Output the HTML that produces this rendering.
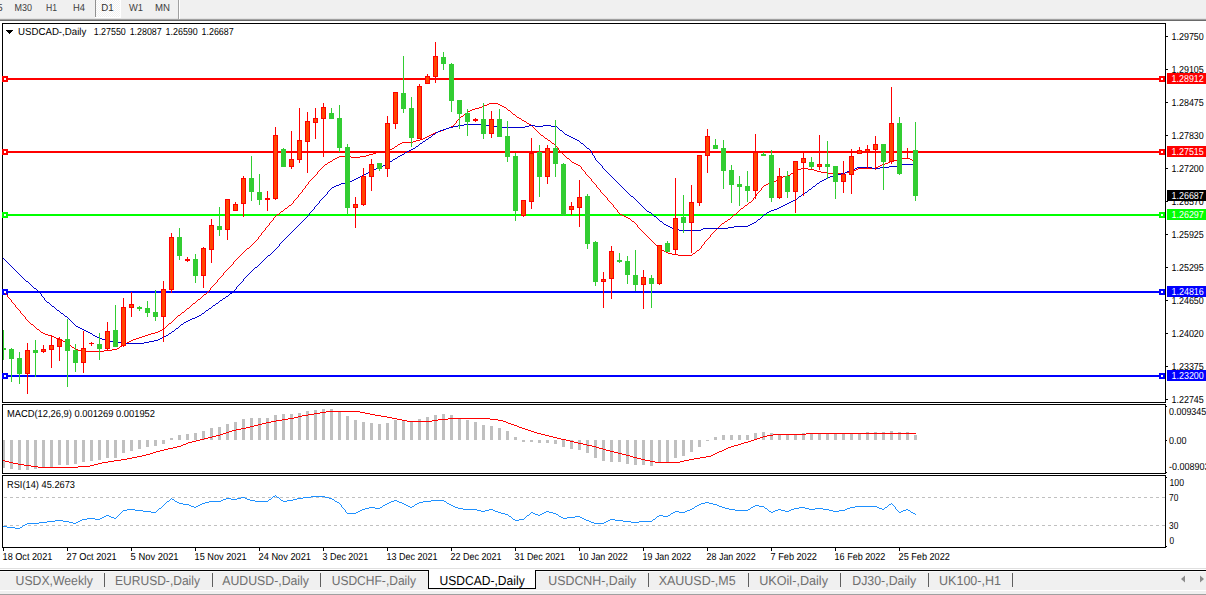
<!DOCTYPE html><html><head><meta charset="utf-8"><title>USDCAD-,Daily</title>
<style>html,body{margin:0;padding:0;background:#fff;overflow:hidden}body{width:1206px;height:595px;position:relative;font-family:"Liberation Sans",sans-serif}svg{position:absolute;left:0;top:0;display:block}text{font-family:"Liberation Sans",sans-serif}</style></head><body>
<svg width="1206" height="595" viewBox="0 0 1206 595" text-rendering="geometricPrecision">
<g shape-rendering="crispEdges">
<rect x="0" y="0" width="1206" height="18" fill="#f0f0f0" />
<rect x="0" y="18" width="1206" height="1" fill="#e3e3e3" />
<rect x="0" y="19" width="1206" height="1" fill="#a0a0a0" />
<rect x="0" y="20" width="1206" height="1" fill="#696969" />
<rect x="0" y="21" width="1206" height="2" fill="#ffffff" />
<rect x="178" y="0" width="1" height="19" fill="#a0a0a0" />
<rect x="179" y="0" width="1" height="19" fill="#ffffff" />
<defs><pattern id="ck" x="96" y="0" width="2" height="2" patternUnits="userSpaceOnUse"><rect width="2" height="2" fill="#ffffff"/><rect x="0" y="0" width="1" height="1" fill="#f0f0f0"/><rect x="1" y="1" width="1" height="1" fill="#f0f0f0"/></pattern></defs>
<rect x="95" y="0" width="1" height="17" fill="#909090" />
<rect x="96" y="0" width="24" height="17" fill="url(#ck)" />
<rect x="120" y="0" width="1" height="18" fill="#ffffff" />
<rect x="95" y="17" width="26" height="1" fill="#ffffff" />
</g>
<g shape-rendering="crispEdges" fill="#000">
<rect x="2" y="23" width="1164" height="1" fill="#000" />
<rect x="2" y="23" width="1" height="380" fill="#000" />
<rect x="2" y="402" width="1164" height="1" fill="#000" />
<rect x="1165" y="23" width="1" height="380" fill="#000" />
<rect x="2" y="404" width="1164" height="1" fill="#000" />
<rect x="2" y="404" width="1" height="70" fill="#000" />
<rect x="2" y="473" width="1164" height="1" fill="#000" />
<rect x="1165" y="404" width="1" height="70" fill="#000" />
<rect x="2" y="475" width="1164" height="1" fill="#000" />
<rect x="2" y="475" width="1" height="73" fill="#000" />
<rect x="2" y="547" width="1164" height="1" fill="#000" />
<rect x="1165" y="475" width="1" height="73" fill="#000" />
</g>
<g shape-rendering="crispEdges">
<rect x="3" y="78" width="1162" height="2" fill="#ff0000" />
<rect x="2" y="76" width="6" height="6" fill="#ff0000" />
<rect x="4" y="78" width="2" height="2" fill="#fff" />
<rect x="1159" y="76" width="6" height="6" fill="#ff0000" />
<rect x="1161" y="78" width="2" height="2" fill="#fff" />
<rect x="1167" y="73" width="39" height="11" fill="#ff0000" />
<rect x="3" y="151" width="1162" height="2" fill="#ff0000" />
<rect x="2" y="149" width="6" height="6" fill="#ff0000" />
<rect x="4" y="151" width="2" height="2" fill="#fff" />
<rect x="1159" y="149" width="6" height="6" fill="#ff0000" />
<rect x="1161" y="151" width="2" height="2" fill="#fff" />
<rect x="1167" y="146" width="39" height="11" fill="#ff0000" />
<rect x="3" y="214" width="1162" height="2" fill="#00ff00" />
<rect x="2" y="212" width="6" height="6" fill="#00ff00" />
<rect x="4" y="214" width="2" height="2" fill="#fff" />
<rect x="1159" y="212" width="6" height="6" fill="#00ff00" />
<rect x="1161" y="214" width="2" height="2" fill="#fff" />
<rect x="1167" y="209" width="39" height="11" fill="#00ff00" />
<rect x="3" y="291" width="1162" height="2" fill="#0000ff" />
<rect x="2" y="289" width="6" height="6" fill="#0000ff" />
<rect x="4" y="291" width="2" height="2" fill="#fff" />
<rect x="1159" y="289" width="6" height="6" fill="#0000ff" />
<rect x="1161" y="291" width="2" height="2" fill="#fff" />
<rect x="1167" y="286" width="39" height="11" fill="#0000ff" />
<rect x="3" y="375" width="1162" height="2" fill="#0000ff" />
<rect x="2" y="373" width="6" height="6" fill="#0000ff" />
<rect x="4" y="375" width="2" height="2" fill="#fff" />
<rect x="1159" y="373" width="6" height="6" fill="#0000ff" />
<rect x="1161" y="375" width="2" height="2" fill="#fff" />
<rect x="1167" y="370" width="39" height="11" fill="#0000ff" />
<rect x="1167" y="190" width="39" height="11" fill="#000" />
</g>
<path d="M489 103h9M487 104h2M498 104h2M484 105h3M500 105h2M482 106h2M502 106h2M479 107h3M504 107h2M475 108h4M506 108h1M472 109h3M507 109h1M470 110h2M508 110h2M468 111h2M510 111h1M467 112h1M511 112h1M465 113h2M512 113h1M464 114h1M513 114h2M463 115h1M515 115h1M461 116h2M516 116h1M460 117h1M517 117h2M459 118h1M519 118h2M458 119h1M521 119h1M457 120h1M522 120h2M456 121h1M524 121h2M456 122h1M526 122h1M455 123h1M527 123h2M454 124h1M529 124h2M453 125h1M531 125h1M451 126h2M532 126h1M449 127h2M533 127h1M446 128h3M534 128h1M444 129h2M535 129h1M441 130h3M536 130h1M438 131h3M537 131h1M435 132h3M538 132h1M433 133h2M539 133h1M431 134h2M540 134h1M429 135h2M541 135h2M427 136h2M543 136h1M425 137h2M544 137h1M423 138h2M545 138h2M420 139h3M547 139h1M416 140h4M548 140h2M413 141h3M550 141h1M402 142h11M551 142h1M400 143h2M552 143h2M398 144h2M554 144h1M397 145h1M555 145h1M395 146h2M556 146h1M394 147h1M557 147h1M392 148h2M558 148h1M390 149h2M558 149h1M386 150h4M559 150h1M380 151h6M560 151h1M376 152h4M561 152h1M373 153h3M562 153h1M369 154h4M563 154h1M366 155h3M564 155h1M339 156h12M360 156h6M565 156h1M337 157h2M351 157h9M566 157h1M335 158h2M567 158h2M901 158h9M333 159h2M569 159h1M897 159h4M910 159h2M332 160h1M570 160h1M893 160h4M912 160h2M330 161h2M571 161h1M890 161h3M328 162h2M572 162h2M888 162h2M327 163h1M574 163h2M885 163h3M325 164h2M576 164h2M882 164h3M324 165h1M578 165h2M880 165h2M323 166h1M580 166h1M878 166h2M322 167h1M581 167h1M876 167h2M321 168h1M581 168h1M801 168h7M858 168h18M320 169h1M582 169h1M797 169h4M808 169h6M856 169h2M319 170h1M583 170h1M795 170h2M814 170h3M853 170h3M318 171h1M584 171h1M794 171h1M817 171h4M849 171h4M317 172h1M585 172h1M793 172h1M821 172h6M845 172h4M317 173h1M585 173h1M791 173h2M827 173h18M316 174h1M586 174h1M790 174h1M315 175h1M587 175h1M787 175h3M314 176h1M588 176h1M783 176h4M313 177h1M589 177h1M780 177h3M312 178h1M590 178h1M779 178h1M311 179h1M591 179h1M777 179h2M310 180h1M591 180h1M776 180h1M309 181h1M592 181h1M774 181h2M308 182h1M593 182h1M771 182h3M308 183h1M594 183h1M768 183h3M307 184h1M595 184h1M766 184h2M306 185h1M596 185h1M764 185h2M305 186h1M596 186h1M763 186h1M305 187h1M597 187h1M762 187h1M304 188h1M598 188h1M761 188h1M303 189h1M599 189h1M761 189h1M302 190h1M600 190h1M760 190h1M302 191h1M600 191h1M759 191h1M301 192h1M601 192h1M758 192h1M300 193h1M602 193h1M757 193h1M299 194h1M603 194h1M756 194h1M298 195h1M604 195h1M756 195h1M298 196h1M605 196h1M755 196h1M297 197h1M606 197h1M754 197h1M296 198h1M607 198h1M753 198h1M295 199h1M607 199h1M753 199h1M294 200h1M608 200h1M752 200h1M293 201h1M609 201h1M751 201h1M293 202h1M610 202h1M749 202h2M292 203h1M611 203h1M748 203h1M291 204h1M612 204h1M747 204h1M289 205h2M613 205h1M745 205h2M288 206h1M613 206h1M744 206h1M287 207h1M614 207h1M743 207h1M285 208h2M615 208h1M741 208h2M284 209h1M616 209h1M740 209h1M283 210h1M617 210h1M739 210h1M281 211h2M617 211h1M738 211h1M280 212h1M618 212h1M737 212h1M279 213h1M619 213h1M736 213h1M277 214h2M620 214h2M734 214h2M276 215h1M622 215h2M733 215h1M275 216h1M624 216h2M732 216h1M274 217h1M626 217h2M731 217h1M273 218h1M628 218h2M730 218h1M273 219h1M630 219h1M728 219h2M272 220h1M631 220h1M727 220h1M271 221h1M632 221h2M725 221h2M270 222h1M634 222h1M724 222h1M269 223h1M635 223h1M722 223h2M269 224h1M636 224h1M721 224h1M268 225h1M637 225h1M720 225h1M267 226h1M637 226h1M719 226h1M266 227h1M638 227h1M718 227h1M265 228h1M639 228h1M717 228h1M265 229h1M640 229h1M716 229h1M264 230h1M641 230h1M715 230h1M263 231h1M642 231h1M714 231h1M262 232h1M643 232h1M713 232h1M261 233h1M644 233h1M712 233h1M261 234h1M645 234h1M711 234h1M260 235h1M646 235h1M710 235h1M259 236h1M647 236h1M710 236h1M258 237h1M648 237h1M709 237h1M258 238h1M649 238h1M708 238h1M257 239h1M650 239h1M707 239h1M256 240h1M651 240h1M706 240h1M255 241h1M652 241h1M705 241h1M254 242h1M653 242h1M704 242h1M253 243h1M654 243h1M704 243h1M252 244h1M655 244h1M703 244h1M251 245h1M656 245h1M702 245h1M250 246h1M657 246h2M701 246h1M249 247h1M659 247h1M701 247h1M247 248h2M660 248h1M700 248h1M246 249h1M661 249h1M699 249h1M245 250h1M662 250h2M697 250h2M244 251h1M664 251h2M696 251h1M243 252h1M666 252h2M695 252h1M242 253h1M668 253h4M693 253h2M241 254h1M672 254h6M692 254h1M240 255h1M678 255h14M239 256h1M238 257h1M237 258h1M236 259h1M235 260h1M234 261h1M233 262h1M233 263h1M232 264h1M231 265h1M230 266h1M229 267h1M228 268h1M227 269h1M226 270h1M225 271h1M224 272h1M223 273h1M223 274h1M222 275h1M221 276h1M220 277h1M219 278h1M218 279h1M217 280h1M217 281h1M216 282h1M215 283h1M214 284h1M213 285h1M212 286h1M211 287h1M210 288h1M210 289h1M209 290h1M208 291h1M207 292h1M5 293h1M206 293h1M6 294h1M204 294h2M7 295h1M203 295h1M7 296h1M202 296h1M8 297h1M201 297h1M9 298h1M200 298h1M10 299h1M198 299h2M11 300h1M197 300h1M11 301h1M196 301h1M12 302h1M195 302h1M13 303h1M193 303h2M14 304h1M192 304h1M15 305h1M191 305h1M15 306h1M190 306h1M16 307h1M189 307h1M17 308h1M187 308h2M18 309h1M186 309h1M19 310h1M185 310h1M20 311h1M184 311h1M20 312h1M182 312h2M21 313h1M181 313h1M22 314h1M180 314h1M23 315h1M178 315h2M24 316h1M177 316h1M25 317h1M176 317h1M25 318h1M175 318h1M26 319h1M174 319h1M27 320h1M173 320h1M28 321h1M172 321h1M29 322h1M171 322h1M30 323h1M169 323h2M31 324h2M168 324h1M33 325h1M167 325h1M34 326h1M166 326h1M35 327h1M165 327h1M36 328h1M164 328h1M37 329h2M162 329h2M39 330h1M160 330h2M40 331h1M158 331h2M41 332h2M155 332h3M43 333h2M151 333h4M45 334h3M148 334h3M48 335h3M145 335h3M51 336h3M142 336h3M54 337h2M139 337h3M56 338h3M136 338h3M59 339h2M133 339h3M61 340h2M131 340h2M63 341h2M129 341h2M65 342h1M127 342h2M66 343h2M125 343h2M68 344h2M124 344h1M70 345h1M122 345h2M71 346h1M120 346h2M72 347h2M119 347h1M74 348h1M117 348h2M75 349h3M112 349h5M78 350h4M104 350h8M82 351h22" transform="translate(0,0.5)" fill="none" stroke="#ff0000" stroke-width="1" shape-rendering="crispEdges"/>
<path d="M464 124h20M458 125h6M484 125h9M529 125h6M543 125h8M453 126h5M493 126h6M525 126h4M535 126h8M551 126h6M449 127h4M499 127h26M557 127h1M446 128h3M558 128h1M443 129h3M559 129h1M440 130h3M560 130h2M438 131h2M562 131h1M436 132h2M563 132h1M435 133h1M564 133h1M433 134h2M565 134h2M432 135h1M567 135h2M431 136h1M569 136h2M429 137h2M571 137h2M428 138h1M573 138h2M426 139h2M575 139h2M425 140h1M577 140h2M423 141h2M579 141h1M422 142h1M580 142h1M420 143h2M581 143h2M419 144h1M583 144h1M418 145h1M584 145h1M416 146h2M585 146h1M415 147h1M586 147h1M413 148h2M587 148h2M411 149h2M589 149h1M409 150h2M590 150h1M407 151h2M591 151h1M405 152h2M591 152h1M404 153h1M592 153h1M402 154h2M592 154h1M400 155h2M593 155h1M398 156h2M594 156h1M397 157h1M594 157h1M395 158h2M595 158h1M393 159h2M595 159h1M392 160h1M596 160h1M390 161h2M597 161h1M388 162h2M598 162h1M387 163h1M599 163h1M385 164h2M600 164h1M901 164h13M383 165h2M601 165h1M897 165h4M381 166h2M602 166h1M889 166h8M379 167h2M602 167h1M857 167h15M880 167h9M376 168h3M603 168h1M855 168h2M872 168h8M374 169h2M604 169h1M852 169h3M372 170h2M605 170h1M850 170h2M370 171h2M606 171h1M847 171h3M368 172h2M607 172h1M845 172h2M366 173h2M608 173h1M841 173h4M364 174h2M609 174h1M837 174h4M362 175h2M610 175h1M833 175h4M360 176h2M611 176h1M830 176h3M358 177h2M612 177h1M828 177h2M356 178h2M613 178h1M826 178h2M354 179h2M614 179h1M824 179h2M352 180h2M615 180h1M822 180h2M349 181h3M616 181h1M820 181h2M345 182h4M617 182h1M819 182h1M341 183h4M618 183h1M817 183h2M339 184h2M619 184h1M816 184h1M336 185h3M620 185h1M815 185h1M334 186h2M621 186h1M813 186h2M332 187h2M622 187h1M812 187h1M331 188h1M623 188h1M811 188h1M330 189h1M624 189h1M809 189h2M329 190h1M625 190h1M808 190h1M328 191h1M626 191h1M807 191h1M327 192h1M627 192h1M805 192h2M327 193h1M628 193h1M804 193h1M326 194h1M629 194h1M802 194h2M325 195h1M630 195h1M801 195h1M324 196h1M631 196h2M799 196h2M323 197h1M633 197h1M798 197h1M322 198h1M634 198h1M797 198h1M321 199h1M635 199h1M795 199h2M320 200h1M636 200h1M793 200h2M319 201h1M637 201h1M791 201h2M319 202h1M638 202h1M789 202h2M318 203h1M639 203h1M787 203h2M317 204h1M640 204h1M785 204h2M316 205h1M641 205h1M783 205h2M315 206h1M642 206h1M781 206h2M314 207h1M643 207h1M779 207h2M314 208h1M644 208h1M777 208h2M313 209h1M645 209h1M774 209h3M312 210h1M646 210h1M771 210h3M311 211h1M647 211h2M769 211h2M310 212h1M649 212h2M767 212h2M309 213h1M651 213h1M766 213h1M309 214h1M652 214h1M764 214h2M308 215h1M653 215h1M763 215h1M307 216h1M654 216h2M762 216h1M306 217h1M656 217h1M761 217h1M305 218h1M657 218h1M760 218h1M304 219h1M658 219h1M758 219h2M303 220h1M659 220h1M757 220h1M302 221h1M660 221h2M756 221h1M301 222h1M662 222h1M754 222h2M300 223h1M663 223h1M752 223h2M299 224h1M664 224h2M750 224h2M298 225h1M666 225h2M748 225h2M297 226h1M668 226h2M734 226h14M296 227h1M670 227h2M728 227h6M295 228h1M672 228h3M703 228h25M294 229h1M675 229h4M701 229h2M293 230h1M679 230h22M292 231h1M291 232h1M290 233h1M289 234h1M288 235h1M287 236h1M286 237h1M285 238h1M284 239h1M283 240h1M282 241h1M281 242h1M280 243h1M279 244h1M279 245h1M278 246h1M277 247h1M276 248h1M275 249h1M274 250h1M273 251h1M272 252h1M271 253h1M270 254h1M268 255h2M267 256h1M266 257h1M3 258h1M265 258h1M4 259h1M264 259h1M5 260h1M263 260h1M6 261h1M262 261h1M7 262h1M261 262h1M8 263h1M260 263h1M9 264h1M259 264h1M10 265h1M258 265h1M11 266h1M257 266h1M12 267h1M255 267h2M13 268h1M254 268h1M14 269h1M253 269h1M15 270h1M252 270h1M16 271h1M251 271h1M17 272h1M250 272h1M18 273h1M249 273h1M19 274h1M248 274h1M20 275h1M247 275h1M21 276h1M246 276h1M22 277h1M245 277h1M23 278h1M244 278h1M24 279h1M243 279h1M25 280h1M243 280h1M26 281h2M242 281h1M28 282h1M241 282h1M29 283h1M240 283h1M30 284h1M239 284h1M31 285h1M238 285h1M32 286h1M237 286h1M33 287h1M236 287h1M34 288h2M236 288h1M36 289h1M235 289h1M37 290h1M234 290h1M38 291h1M233 291h1M39 292h1M232 292h1M40 293h1M230 293h2M41 294h1M229 294h1M41 295h1M228 295h1M42 296h1M226 296h2M43 297h1M225 297h1M44 298h1M223 298h2M44 299h1M222 299h1M45 300h1M220 300h2M46 301h1M219 301h1M47 302h2M218 302h1M49 303h1M216 303h2M50 304h1M215 304h1M51 305h1M213 305h2M52 306h2M212 306h1M54 307h1M211 307h1M55 308h1M209 308h2M56 309h1M208 309h1M57 310h2M206 310h2M59 311h1M205 311h1M60 312h1M204 312h1M61 313h2M202 313h2M63 314h1M201 314h1M64 315h1M199 315h2M65 316h2M197 316h2M67 317h1M195 317h2M68 318h1M192 318h3M69 319h1M190 319h2M70 320h1M188 320h2M71 321h1M186 321h2M72 322h1M184 322h2M73 323h1M183 323h1M74 324h1M181 324h2M75 325h1M180 325h1M76 326h2M179 326h1M78 327h2M178 327h1M80 328h2M176 328h2M82 329h2M175 329h1M84 330h2M174 330h1M86 331h2M172 331h2M88 332h2M171 332h1M90 333h2M169 333h2M92 334h1M168 334h1M93 335h2M166 335h2M95 336h2M164 336h2M97 337h2M162 337h2M99 338h3M160 338h2M102 339h4M158 339h2M106 340h4M154 340h4M110 341h5M149 341h5M115 342h7M144 342h5M122 343h22" transform="translate(0,0.5)" fill="none" stroke="#0000cd" stroke-width="1" shape-rendering="crispEdges"/>
<g shape-rendering="crispEdges">
<rect x="3" y="330" width="1" height="30" fill="#32cd32" />
<rect x="3" y="348" width="3" height="2" fill="#32cd32" />
<rect x="11" y="348" width="1" height="34" fill="#32cd32" />
<rect x="9" y="349" width="5" height="10" fill="#32cd32" />
<rect x="19" y="352" width="1" height="32" fill="#32cd32" />
<rect x="17" y="358" width="5" height="16" fill="#32cd32" />
<rect x="27" y="343" width="1" height="51" fill="#ff0000" />
<rect x="25" y="350" width="5" height="24" fill="#ff0000" />
<rect x="26" y="351" width="3" height="22" fill="#ff4500" />
<rect x="35" y="340" width="1" height="37" fill="#32cd32" />
<rect x="33" y="350" width="5" height="3" fill="#32cd32" />
<rect x="43" y="345" width="1" height="8" fill="#ff0000" />
<rect x="41" y="349" width="5" height="3" fill="#ff0000" />
<rect x="42" y="350" width="3" height="1" fill="#ff4500" />
<rect x="51" y="335" width="1" height="33" fill="#ff0000" />
<rect x="49" y="345" width="5" height="5" fill="#ff0000" />
<rect x="50" y="346" width="3" height="3" fill="#ff4500" />
<rect x="59" y="337" width="1" height="24" fill="#ff0000" />
<rect x="57" y="339" width="5" height="8" fill="#ff0000" />
<rect x="58" y="340" width="3" height="6" fill="#ff4500" />
<rect x="67" y="319" width="1" height="68" fill="#32cd32" />
<rect x="65" y="339" width="5" height="12" fill="#32cd32" />
<rect x="75" y="344" width="1" height="28" fill="#32cd32" />
<rect x="73" y="350" width="5" height="13" fill="#32cd32" />
<rect x="83" y="331" width="1" height="42" fill="#ff0000" />
<rect x="81" y="348" width="5" height="15" fill="#ff0000" />
<rect x="82" y="349" width="3" height="13" fill="#ff4500" />
<rect x="91" y="342" width="1" height="4" fill="#ff0000" />
<rect x="89" y="343" width="5" height="1" fill="#ff0000" />
<rect x="99" y="333" width="1" height="27" fill="#32cd32" />
<rect x="97" y="344" width="5" height="5" fill="#32cd32" />
<rect x="107" y="322" width="1" height="28" fill="#ff0000" />
<rect x="105" y="331" width="5" height="18" fill="#ff0000" />
<rect x="106" y="332" width="3" height="16" fill="#ff4500" />
<rect x="115" y="305" width="1" height="42" fill="#32cd32" />
<rect x="113" y="330" width="5" height="17" fill="#32cd32" />
<rect x="123" y="298" width="1" height="49" fill="#ff0000" />
<rect x="121" y="307" width="5" height="39" fill="#ff0000" />
<rect x="122" y="308" width="3" height="37" fill="#ff4500" />
<rect x="131" y="292" width="1" height="25" fill="#ff0000" />
<rect x="129" y="304" width="5" height="4" fill="#ff0000" />
<rect x="130" y="305" width="3" height="2" fill="#ff4500" />
<rect x="139" y="306" width="1" height="5" fill="#32cd32" />
<rect x="137" y="307" width="5" height="2" fill="#32cd32" />
<rect x="147" y="301" width="1" height="16" fill="#32cd32" />
<rect x="145" y="308" width="5" height="5" fill="#32cd32" />
<rect x="155" y="290" width="1" height="31" fill="#32cd32" />
<rect x="153" y="312" width="5" height="5" fill="#32cd32" />
<rect x="163" y="281" width="1" height="61" fill="#ff0000" />
<rect x="161" y="289" width="5" height="28" fill="#ff0000" />
<rect x="162" y="290" width="3" height="26" fill="#ff4500" />
<rect x="171" y="233" width="1" height="60" fill="#ff0000" />
<rect x="169" y="237" width="5" height="53" fill="#ff0000" />
<rect x="170" y="238" width="3" height="51" fill="#ff4500" />
<rect x="179" y="228" width="1" height="32" fill="#32cd32" />
<rect x="177" y="237" width="5" height="19" fill="#32cd32" />
<rect x="187" y="257" width="1" height="5" fill="#ff0000" />
<rect x="185" y="259" width="5" height="2" fill="#ff0000" />
<rect x="195" y="254" width="1" height="29" fill="#32cd32" />
<rect x="193" y="259" width="5" height="17" fill="#32cd32" />
<rect x="203" y="247" width="1" height="41" fill="#ff0000" />
<rect x="201" y="248" width="5" height="28" fill="#ff0000" />
<rect x="202" y="249" width="3" height="26" fill="#ff4500" />
<rect x="211" y="219" width="1" height="44" fill="#ff0000" />
<rect x="209" y="225" width="5" height="25" fill="#ff0000" />
<rect x="210" y="226" width="3" height="23" fill="#ff4500" />
<rect x="219" y="207" width="1" height="29" fill="#32cd32" />
<rect x="217" y="226" width="5" height="4" fill="#32cd32" />
<rect x="227" y="199" width="1" height="41" fill="#ff0000" />
<rect x="225" y="199" width="5" height="31" fill="#ff0000" />
<rect x="226" y="200" width="3" height="29" fill="#ff4500" />
<rect x="235" y="202" width="1" height="9" fill="#ff0000" />
<rect x="233" y="204" width="5" height="7" fill="#ff0000" />
<rect x="234" y="205" width="3" height="5" fill="#ff4500" />
<rect x="243" y="176" width="1" height="41" fill="#ff0000" />
<rect x="241" y="178" width="5" height="26" fill="#ff0000" />
<rect x="242" y="179" width="3" height="24" fill="#ff4500" />
<rect x="251" y="156" width="1" height="45" fill="#32cd32" />
<rect x="249" y="178" width="5" height="14" fill="#32cd32" />
<rect x="259" y="174" width="1" height="31" fill="#32cd32" />
<rect x="257" y="192" width="5" height="8" fill="#32cd32" />
<rect x="267" y="191" width="1" height="20" fill="#ff0000" />
<rect x="265" y="198" width="5" height="2" fill="#ff0000" />
<rect x="275" y="127" width="1" height="73" fill="#ff0000" />
<rect x="273" y="135" width="5" height="64" fill="#ff0000" />
<rect x="274" y="136" width="3" height="62" fill="#ff4500" />
<rect x="283" y="148" width="1" height="19" fill="#32cd32" />
<rect x="281" y="149" width="5" height="18" fill="#32cd32" />
<rect x="291" y="131" width="1" height="38" fill="#ff0000" />
<rect x="289" y="159" width="5" height="8" fill="#ff0000" />
<rect x="290" y="160" width="3" height="6" fill="#ff4500" />
<rect x="299" y="108" width="1" height="55" fill="#ff0000" />
<rect x="297" y="140" width="5" height="20" fill="#ff0000" />
<rect x="298" y="141" width="3" height="18" fill="#ff4500" />
<rect x="307" y="112" width="1" height="61" fill="#ff0000" />
<rect x="305" y="121" width="5" height="21" fill="#ff0000" />
<rect x="306" y="122" width="3" height="19" fill="#ff4500" />
<rect x="315" y="108" width="1" height="31" fill="#ff0000" />
<rect x="313" y="118" width="5" height="5" fill="#ff0000" />
<rect x="314" y="119" width="3" height="3" fill="#ff4500" />
<rect x="323" y="103" width="1" height="54" fill="#ff0000" />
<rect x="321" y="107" width="5" height="12" fill="#ff0000" />
<rect x="322" y="108" width="3" height="10" fill="#ff4500" />
<rect x="331" y="108" width="1" height="11" fill="#32cd32" />
<rect x="329" y="113" width="5" height="6" fill="#32cd32" />
<rect x="339" y="105" width="1" height="47" fill="#32cd32" />
<rect x="337" y="118" width="5" height="30" fill="#32cd32" />
<rect x="347" y="144" width="1" height="71" fill="#32cd32" />
<rect x="345" y="147" width="5" height="61" fill="#32cd32" />
<rect x="355" y="197" width="1" height="31" fill="#ff0000" />
<rect x="353" y="204" width="5" height="4" fill="#ff0000" />
<rect x="354" y="205" width="3" height="2" fill="#ff4500" />
<rect x="363" y="168" width="1" height="38" fill="#ff0000" />
<rect x="361" y="176" width="5" height="29" fill="#ff0000" />
<rect x="362" y="177" width="3" height="27" fill="#ff4500" />
<rect x="371" y="159" width="1" height="32" fill="#ff0000" />
<rect x="369" y="164" width="5" height="13" fill="#ff0000" />
<rect x="370" y="165" width="3" height="11" fill="#ff4500" />
<rect x="379" y="163" width="1" height="8" fill="#32cd32" />
<rect x="377" y="163" width="5" height="6" fill="#32cd32" />
<rect x="387" y="116" width="1" height="61" fill="#ff0000" />
<rect x="385" y="123" width="5" height="46" fill="#ff0000" />
<rect x="386" y="124" width="3" height="44" fill="#ff4500" />
<rect x="395" y="92" width="1" height="37" fill="#ff0000" />
<rect x="393" y="92" width="5" height="32" fill="#ff0000" />
<rect x="394" y="93" width="3" height="30" fill="#ff4500" />
<rect x="403" y="56" width="1" height="57" fill="#32cd32" />
<rect x="401" y="93" width="5" height="16" fill="#32cd32" />
<rect x="411" y="97" width="1" height="50" fill="#32cd32" />
<rect x="409" y="108" width="5" height="30" fill="#32cd32" />
<rect x="419" y="84" width="1" height="55" fill="#ff0000" />
<rect x="417" y="86" width="5" height="53" fill="#ff0000" />
<rect x="418" y="87" width="3" height="51" fill="#ff4500" />
<rect x="427" y="74" width="1" height="10" fill="#ff0000" />
<rect x="425" y="76" width="5" height="8" fill="#ff0000" />
<rect x="426" y="77" width="3" height="6" fill="#ff4500" />
<rect x="435" y="42" width="1" height="41" fill="#ff0000" />
<rect x="433" y="56" width="5" height="21" fill="#ff0000" />
<rect x="434" y="57" width="3" height="19" fill="#ff4500" />
<rect x="443" y="52" width="1" height="18" fill="#32cd32" />
<rect x="441" y="57" width="5" height="7" fill="#32cd32" />
<rect x="451" y="63" width="1" height="49" fill="#32cd32" />
<rect x="449" y="64" width="5" height="37" fill="#32cd32" />
<rect x="459" y="100" width="1" height="29" fill="#32cd32" />
<rect x="457" y="100" width="5" height="14" fill="#32cd32" />
<rect x="467" y="109" width="1" height="27" fill="#32cd32" />
<rect x="465" y="113" width="5" height="9" fill="#32cd32" />
<rect x="475" y="118" width="1" height="4" fill="#ff0000" />
<rect x="473" y="119" width="5" height="2" fill="#ff0000" />
<rect x="483" y="103" width="1" height="36" fill="#32cd32" />
<rect x="481" y="119" width="5" height="15" fill="#32cd32" />
<rect x="491" y="111" width="1" height="27" fill="#ff0000" />
<rect x="489" y="119" width="5" height="15" fill="#ff0000" />
<rect x="490" y="120" width="3" height="13" fill="#ff4500" />
<rect x="499" y="109" width="1" height="28" fill="#32cd32" />
<rect x="497" y="119" width="5" height="18" fill="#32cd32" />
<rect x="507" y="121" width="1" height="41" fill="#32cd32" />
<rect x="505" y="136" width="5" height="21" fill="#32cd32" />
<rect x="515" y="153" width="1" height="68" fill="#32cd32" />
<rect x="513" y="156" width="5" height="55" fill="#32cd32" />
<rect x="523" y="200" width="1" height="17" fill="#ff0000" />
<rect x="521" y="200" width="5" height="16" fill="#ff0000" />
<rect x="522" y="201" width="3" height="14" fill="#ff4500" />
<rect x="531" y="138" width="1" height="71" fill="#ff0000" />
<rect x="529" y="153" width="5" height="49" fill="#ff0000" />
<rect x="530" y="154" width="3" height="47" fill="#ff4500" />
<rect x="539" y="145" width="1" height="52" fill="#32cd32" />
<rect x="537" y="152" width="5" height="25" fill="#32cd32" />
<rect x="547" y="145" width="1" height="39" fill="#ff0000" />
<rect x="545" y="148" width="5" height="29" fill="#ff0000" />
<rect x="546" y="149" width="3" height="27" fill="#ff4500" />
<rect x="555" y="120" width="1" height="57" fill="#32cd32" />
<rect x="553" y="148" width="5" height="16" fill="#32cd32" />
<rect x="563" y="163" width="1" height="53" fill="#32cd32" />
<rect x="561" y="164" width="5" height="51" fill="#32cd32" />
<rect x="571" y="202" width="1" height="13" fill="#ff0000" />
<rect x="569" y="206" width="5" height="4" fill="#ff0000" />
<rect x="570" y="207" width="3" height="2" fill="#ff4500" />
<rect x="579" y="180" width="1" height="47" fill="#ff0000" />
<rect x="577" y="197" width="5" height="11" fill="#ff0000" />
<rect x="578" y="198" width="3" height="9" fill="#ff4500" />
<rect x="587" y="194" width="1" height="55" fill="#32cd32" />
<rect x="585" y="196" width="5" height="48" fill="#32cd32" />
<rect x="595" y="241" width="1" height="45" fill="#32cd32" />
<rect x="593" y="242" width="5" height="40" fill="#32cd32" />
<rect x="603" y="272" width="1" height="36" fill="#ff0000" />
<rect x="601" y="279" width="5" height="3" fill="#ff0000" />
<rect x="602" y="280" width="3" height="1" fill="#ff4500" />
<rect x="611" y="246" width="1" height="53" fill="#ff0000" />
<rect x="609" y="251" width="5" height="28" fill="#ff0000" />
<rect x="610" y="252" width="3" height="26" fill="#ff4500" />
<rect x="619" y="253" width="1" height="10" fill="#32cd32" />
<rect x="617" y="260" width="5" height="2" fill="#32cd32" />
<rect x="627" y="256" width="1" height="28" fill="#32cd32" />
<rect x="625" y="261" width="5" height="14" fill="#32cd32" />
<rect x="635" y="250" width="1" height="41" fill="#32cd32" />
<rect x="633" y="275" width="5" height="10" fill="#32cd32" />
<rect x="643" y="270" width="1" height="39" fill="#ff0000" />
<rect x="641" y="277" width="5" height="8" fill="#ff0000" />
<rect x="642" y="278" width="3" height="6" fill="#ff4500" />
<rect x="651" y="275" width="1" height="33" fill="#32cd32" />
<rect x="649" y="278" width="5" height="6" fill="#32cd32" />
<rect x="659" y="245" width="1" height="40" fill="#ff0000" />
<rect x="657" y="245" width="5" height="39" fill="#ff0000" />
<rect x="658" y="246" width="3" height="37" fill="#ff4500" />
<rect x="667" y="241" width="1" height="11" fill="#32cd32" />
<rect x="665" y="243" width="5" height="9" fill="#32cd32" />
<rect x="675" y="178" width="1" height="76" fill="#ff0000" />
<rect x="673" y="218" width="5" height="32" fill="#ff0000" />
<rect x="674" y="219" width="3" height="30" fill="#ff4500" />
<rect x="683" y="195" width="1" height="38" fill="#32cd32" />
<rect x="681" y="217" width="5" height="6" fill="#32cd32" />
<rect x="691" y="185" width="1" height="68" fill="#ff0000" />
<rect x="689" y="202" width="5" height="21" fill="#ff0000" />
<rect x="690" y="203" width="3" height="19" fill="#ff4500" />
<rect x="699" y="155" width="1" height="51" fill="#ff0000" />
<rect x="697" y="155" width="5" height="48" fill="#ff0000" />
<rect x="698" y="156" width="3" height="46" fill="#ff4500" />
<rect x="707" y="129" width="1" height="44" fill="#ff0000" />
<rect x="705" y="136" width="5" height="20" fill="#ff0000" />
<rect x="706" y="137" width="3" height="18" fill="#ff4500" />
<rect x="715" y="139" width="1" height="10" fill="#32cd32" />
<rect x="713" y="145" width="5" height="4" fill="#32cd32" />
<rect x="723" y="140" width="1" height="49" fill="#32cd32" />
<rect x="721" y="148" width="5" height="23" fill="#32cd32" />
<rect x="731" y="165" width="1" height="38" fill="#32cd32" />
<rect x="729" y="170" width="5" height="15" fill="#32cd32" />
<rect x="739" y="176" width="1" height="30" fill="#32cd32" />
<rect x="737" y="184" width="5" height="3" fill="#32cd32" />
<rect x="747" y="171" width="1" height="31" fill="#32cd32" />
<rect x="745" y="186" width="5" height="5" fill="#32cd32" />
<rect x="755" y="134" width="1" height="65" fill="#ff0000" />
<rect x="753" y="152" width="5" height="39" fill="#ff0000" />
<rect x="754" y="153" width="3" height="37" fill="#ff4500" />
<rect x="763" y="152" width="1" height="4" fill="#32cd32" />
<rect x="761" y="154" width="5" height="2" fill="#32cd32" />
<rect x="771" y="150" width="1" height="52" fill="#32cd32" />
<rect x="769" y="155" width="5" height="43" fill="#32cd32" />
<rect x="779" y="168" width="1" height="31" fill="#ff0000" />
<rect x="777" y="176" width="5" height="22" fill="#ff0000" />
<rect x="778" y="177" width="3" height="20" fill="#ff4500" />
<rect x="787" y="171" width="1" height="27" fill="#32cd32" />
<rect x="785" y="176" width="5" height="16" fill="#32cd32" />
<rect x="795" y="161" width="1" height="52" fill="#ff0000" />
<rect x="793" y="161" width="5" height="31" fill="#ff0000" />
<rect x="794" y="162" width="3" height="29" fill="#ff4500" />
<rect x="803" y="153" width="1" height="43" fill="#ff0000" />
<rect x="801" y="158" width="5" height="5" fill="#ff0000" />
<rect x="802" y="159" width="3" height="3" fill="#ff4500" />
<rect x="811" y="157" width="1" height="12" fill="#32cd32" />
<rect x="809" y="162" width="5" height="5" fill="#32cd32" />
<rect x="819" y="135" width="1" height="35" fill="#ff0000" />
<rect x="817" y="164" width="5" height="3" fill="#ff0000" />
<rect x="818" y="165" width="3" height="1" fill="#ff4500" />
<rect x="827" y="141" width="1" height="38" fill="#32cd32" />
<rect x="825" y="164" width="5" height="3" fill="#32cd32" />
<rect x="835" y="166" width="1" height="33" fill="#32cd32" />
<rect x="833" y="166" width="5" height="16" fill="#32cd32" />
<rect x="843" y="161" width="1" height="32" fill="#ff0000" />
<rect x="841" y="174" width="5" height="8" fill="#ff0000" />
<rect x="842" y="175" width="3" height="6" fill="#ff4500" />
<rect x="851" y="149" width="1" height="45" fill="#ff0000" />
<rect x="849" y="156" width="5" height="19" fill="#ff0000" />
<rect x="850" y="157" width="3" height="17" fill="#ff4500" />
<rect x="859" y="147" width="1" height="7" fill="#ff0000" />
<rect x="857" y="150" width="5" height="4" fill="#ff0000" />
<rect x="858" y="151" width="3" height="2" fill="#ff4500" />
<rect x="867" y="145" width="1" height="24" fill="#ff0000" />
<rect x="865" y="149" width="5" height="3" fill="#ff0000" />
<rect x="866" y="150" width="3" height="1" fill="#ff4500" />
<rect x="875" y="136" width="1" height="34" fill="#ff0000" />
<rect x="873" y="144" width="5" height="6" fill="#ff0000" />
<rect x="874" y="145" width="3" height="4" fill="#ff4500" />
<rect x="883" y="144" width="1" height="46" fill="#32cd32" />
<rect x="881" y="144" width="5" height="18" fill="#32cd32" />
<rect x="891" y="87" width="1" height="77" fill="#ff0000" />
<rect x="889" y="123" width="5" height="39" fill="#ff0000" />
<rect x="890" y="124" width="3" height="37" fill="#ff4500" />
<rect x="899" y="117" width="1" height="58" fill="#32cd32" />
<rect x="897" y="123" width="5" height="51" fill="#32cd32" />
<rect x="907" y="148" width="1" height="10" fill="#ff0000" />
<rect x="915" y="122" width="1" height="79" fill="#32cd32" />
<rect x="913" y="150" width="5" height="46" fill="#32cd32" />
</g>
<g shape-rendering="crispEdges">
<rect x="3" y="440" width="2" height="28" fill="#c0c0c0" />
<rect x="10" y="440" width="3" height="29" fill="#c0c0c0" />
<rect x="18" y="440" width="3" height="30" fill="#c0c0c0" />
<rect x="26" y="440" width="3" height="30" fill="#c0c0c0" />
<rect x="34" y="440" width="3" height="29" fill="#c0c0c0" />
<rect x="42" y="440" width="3" height="27" fill="#c0c0c0" />
<rect x="50" y="440" width="3" height="27" fill="#c0c0c0" />
<rect x="58" y="440" width="3" height="25" fill="#c0c0c0" />
<rect x="66" y="440" width="3" height="25" fill="#c0c0c0" />
<rect x="74" y="440" width="3" height="24" fill="#c0c0c0" />
<rect x="82" y="440" width="3" height="22" fill="#c0c0c0" />
<rect x="90" y="440" width="3" height="21" fill="#c0c0c0" />
<rect x="98" y="440" width="3" height="20" fill="#c0c0c0" />
<rect x="106" y="440" width="3" height="18" fill="#c0c0c0" />
<rect x="114" y="440" width="3" height="18" fill="#c0c0c0" />
<rect x="122" y="440" width="3" height="13" fill="#c0c0c0" />
<rect x="130" y="440" width="3" height="11" fill="#c0c0c0" />
<rect x="138" y="440" width="3" height="9" fill="#c0c0c0" />
<rect x="146" y="440" width="3" height="7" fill="#c0c0c0" />
<rect x="154" y="440" width="3" height="6" fill="#c0c0c0" />
<rect x="162" y="440" width="3" height="4" fill="#c0c0c0" />
<rect x="170" y="438" width="3" height="2" fill="#c0c0c0" />
<rect x="178" y="435" width="3" height="5" fill="#c0c0c0" />
<rect x="186" y="434" width="3" height="6" fill="#c0c0c0" />
<rect x="194" y="433" width="3" height="7" fill="#c0c0c0" />
<rect x="202" y="431" width="3" height="9" fill="#c0c0c0" />
<rect x="210" y="428" width="3" height="12" fill="#c0c0c0" />
<rect x="218" y="427" width="3" height="13" fill="#c0c0c0" />
<rect x="226" y="424" width="3" height="16" fill="#c0c0c0" />
<rect x="234" y="422" width="3" height="18" fill="#c0c0c0" />
<rect x="242" y="419" width="3" height="21" fill="#c0c0c0" />
<rect x="250" y="418" width="3" height="22" fill="#c0c0c0" />
<rect x="258" y="418" width="3" height="22" fill="#c0c0c0" />
<rect x="266" y="418" width="3" height="22" fill="#c0c0c0" />
<rect x="274" y="415" width="3" height="25" fill="#c0c0c0" />
<rect x="282" y="414" width="3" height="26" fill="#c0c0c0" />
<rect x="290" y="414" width="3" height="26" fill="#c0c0c0" />
<rect x="298" y="413" width="3" height="27" fill="#c0c0c0" />
<rect x="306" y="411" width="3" height="29" fill="#c0c0c0" />
<rect x="314" y="410" width="3" height="30" fill="#c0c0c0" />
<rect x="322" y="409" width="3" height="31" fill="#c0c0c0" />
<rect x="330" y="409" width="3" height="31" fill="#c0c0c0" />
<rect x="338" y="411" width="3" height="29" fill="#c0c0c0" />
<rect x="346" y="416" width="3" height="24" fill="#c0c0c0" />
<rect x="354" y="420" width="3" height="20" fill="#c0c0c0" />
<rect x="362" y="422" width="3" height="18" fill="#c0c0c0" />
<rect x="370" y="423" width="3" height="17" fill="#c0c0c0" />
<rect x="378" y="424" width="3" height="16" fill="#c0c0c0" />
<rect x="386" y="423" width="3" height="17" fill="#c0c0c0" />
<rect x="394" y="420" width="3" height="20" fill="#c0c0c0" />
<rect x="402" y="421" width="3" height="19" fill="#c0c0c0" />
<rect x="410" y="422" width="3" height="18" fill="#c0c0c0" />
<rect x="418" y="419" width="3" height="21" fill="#c0c0c0" />
<rect x="426" y="417" width="3" height="23" fill="#c0c0c0" />
<rect x="434" y="415" width="3" height="25" fill="#c0c0c0" />
<rect x="442" y="414" width="3" height="26" fill="#c0c0c0" />
<rect x="450" y="415" width="3" height="25" fill="#c0c0c0" />
<rect x="458" y="418" width="3" height="22" fill="#c0c0c0" />
<rect x="466" y="420" width="3" height="20" fill="#c0c0c0" />
<rect x="474" y="422" width="3" height="18" fill="#c0c0c0" />
<rect x="482" y="425" width="3" height="15" fill="#c0c0c0" />
<rect x="490" y="426" width="3" height="14" fill="#c0c0c0" />
<rect x="498" y="428" width="3" height="12" fill="#c0c0c0" />
<rect x="506" y="431" width="3" height="9" fill="#c0c0c0" />
<rect x="514" y="437" width="3" height="3" fill="#c0c0c0" />
<rect x="522" y="440" width="3" height="2" fill="#c0c0c0" />
<rect x="530" y="440" width="3" height="2" fill="#c0c0c0" />
<rect x="538" y="440" width="3" height="3" fill="#c0c0c0" />
<rect x="546" y="440" width="3" height="3" fill="#c0c0c0" />
<rect x="554" y="440" width="3" height="4" fill="#c0c0c0" />
<rect x="562" y="440" width="3" height="7" fill="#c0c0c0" />
<rect x="570" y="440" width="3" height="9" fill="#c0c0c0" />
<rect x="578" y="440" width="3" height="10" fill="#c0c0c0" />
<rect x="586" y="440" width="3" height="13" fill="#c0c0c0" />
<rect x="594" y="440" width="3" height="18" fill="#c0c0c0" />
<rect x="602" y="440" width="3" height="21" fill="#c0c0c0" />
<rect x="610" y="440" width="3" height="22" fill="#c0c0c0" />
<rect x="618" y="440" width="3" height="22" fill="#c0c0c0" />
<rect x="626" y="440" width="3" height="24" fill="#c0c0c0" />
<rect x="634" y="440" width="3" height="25" fill="#c0c0c0" />
<rect x="642" y="440" width="3" height="25" fill="#c0c0c0" />
<rect x="650" y="440" width="3" height="26" fill="#c0c0c0" />
<rect x="658" y="440" width="3" height="23" fill="#c0c0c0" />
<rect x="666" y="440" width="3" height="23" fill="#c0c0c0" />
<rect x="674" y="440" width="3" height="18" fill="#c0c0c0" />
<rect x="682" y="440" width="3" height="16" fill="#c0c0c0" />
<rect x="690" y="440" width="3" height="12" fill="#c0c0c0" />
<rect x="698" y="440" width="3" height="7" fill="#c0c0c0" />
<rect x="706" y="440" width="3" height="1" fill="#c0c0c0" />
<rect x="714" y="437" width="3" height="3" fill="#c0c0c0" />
<rect x="722" y="435" width="3" height="5" fill="#c0c0c0" />
<rect x="730" y="435" width="3" height="5" fill="#c0c0c0" />
<rect x="738" y="435" width="3" height="5" fill="#c0c0c0" />
<rect x="746" y="435" width="3" height="5" fill="#c0c0c0" />
<rect x="754" y="433" width="3" height="7" fill="#c0c0c0" />
<rect x="762" y="432" width="3" height="8" fill="#c0c0c0" />
<rect x="770" y="433" width="3" height="7" fill="#c0c0c0" />
<rect x="778" y="434" width="3" height="6" fill="#c0c0c0" />
<rect x="786" y="434" width="3" height="6" fill="#c0c0c0" />
<rect x="794" y="434" width="3" height="6" fill="#c0c0c0" />
<rect x="802" y="433" width="3" height="7" fill="#c0c0c0" />
<rect x="810" y="433" width="3" height="7" fill="#c0c0c0" />
<rect x="818" y="433" width="3" height="7" fill="#c0c0c0" />
<rect x="826" y="433" width="3" height="7" fill="#c0c0c0" />
<rect x="834" y="433" width="3" height="7" fill="#c0c0c0" />
<rect x="842" y="433" width="3" height="7" fill="#c0c0c0" />
<rect x="850" y="433" width="3" height="7" fill="#c0c0c0" />
<rect x="858" y="433" width="3" height="7" fill="#c0c0c0" />
<rect x="866" y="432" width="3" height="8" fill="#c0c0c0" />
<rect x="874" y="432" width="3" height="8" fill="#c0c0c0" />
<rect x="882" y="432" width="3" height="8" fill="#c0c0c0" />
<rect x="890" y="431" width="3" height="9" fill="#c0c0c0" />
<rect x="898" y="432" width="3" height="8" fill="#c0c0c0" />
<rect x="906" y="432" width="3" height="8" fill="#c0c0c0" />
<rect x="914" y="435" width="3" height="5" fill="#c0c0c0" />
</g>
<path d="M326 411h34M320 412h6M360 412h5M314 413h6M365 413h5M308 414h6M370 414h5M302 415h6M375 415h6M298 416h4M381 416h6M294 417h4M387 417h5M288 418h6M392 418h5M448 418h42M282 419h6M397 419h5M438 419h10M490 419h8M276 420h6M402 420h5M432 420h6M498 420h5M271 421h5M407 421h25M503 421h3M266 422h5M506 422h2M262 423h4M508 423h3M258 424h4M511 424h3M254 425h4M514 425h3M250 426h4M517 426h2M246 427h4M519 427h3M241 428h5M522 428h3M236 429h5M525 429h3M232 430h4M528 430h3M229 431h3M531 431h3M226 432h3M534 432h3M223 433h3M537 433h4M806 433h110M220 434h3M541 434h4M773 434h33M216 435h4M545 435h4M767 435h6M212 436h4M549 436h4M763 436h4M208 437h4M553 437h4M760 437h3M204 438h4M557 438h4M757 438h3M200 439h4M561 439h5M754 439h3M196 440h4M566 440h4M751 440h3M192 441h4M570 441h4M748 441h3M188 442h4M574 442h4M744 442h4M186 443h2M578 443h5M741 443h3M183 444h3M583 444h4M738 444h3M181 445h2M587 445h5M734 445h4M177 446h4M592 446h4M731 446h3M173 447h4M596 447h3M728 447h3M168 448h5M599 448h4M726 448h2M164 449h4M603 449h3M724 449h2M160 450h4M606 450h4M722 450h2M156 451h4M610 451h4M719 451h3M153 452h3M614 452h4M717 452h2M150 453h3M618 453h4M715 453h2M146 454h4M622 454h4M713 454h2M142 455h4M626 455h4M711 455h2M137 456h5M630 456h3M706 456h5M132 457h5M633 457h4M700 457h6M127 458h5M637 458h4M694 458h6M121 459h6M641 459h4M689 459h5M3 460h2M114 460h7M645 460h5M684 460h5M5 461h4M108 461h6M650 461h5M680 461h4M9 462h4M102 462h6M655 462h25M13 463h5M98 463h4M18 464h6M94 464h4M24 465h7M90 465h4M31 466h7M78 466h12M38 467h40" transform="translate(0,0.5)" fill="none" stroke="#ff0000" stroke-width="1" shape-rendering="crispEdges"/>
<g shape-rendering="crispEdges">
<rect x="4" y="497" width="3" height="1" fill="#c0c0c0" />
<rect x="10" y="497" width="3" height="1" fill="#c0c0c0" />
<rect x="16" y="497" width="3" height="1" fill="#c0c0c0" />
<rect x="22" y="497" width="3" height="1" fill="#c0c0c0" />
<rect x="28" y="497" width="3" height="1" fill="#c0c0c0" />
<rect x="34" y="497" width="3" height="1" fill="#c0c0c0" />
<rect x="40" y="497" width="3" height="1" fill="#c0c0c0" />
<rect x="46" y="497" width="3" height="1" fill="#c0c0c0" />
<rect x="52" y="497" width="3" height="1" fill="#c0c0c0" />
<rect x="58" y="497" width="3" height="1" fill="#c0c0c0" />
<rect x="64" y="497" width="3" height="1" fill="#c0c0c0" />
<rect x="70" y="497" width="3" height="1" fill="#c0c0c0" />
<rect x="76" y="497" width="3" height="1" fill="#c0c0c0" />
<rect x="82" y="497" width="3" height="1" fill="#c0c0c0" />
<rect x="88" y="497" width="3" height="1" fill="#c0c0c0" />
<rect x="94" y="497" width="3" height="1" fill="#c0c0c0" />
<rect x="100" y="497" width="3" height="1" fill="#c0c0c0" />
<rect x="106" y="497" width="3" height="1" fill="#c0c0c0" />
<rect x="112" y="497" width="3" height="1" fill="#c0c0c0" />
<rect x="118" y="497" width="3" height="1" fill="#c0c0c0" />
<rect x="124" y="497" width="3" height="1" fill="#c0c0c0" />
<rect x="130" y="497" width="3" height="1" fill="#c0c0c0" />
<rect x="136" y="497" width="3" height="1" fill="#c0c0c0" />
<rect x="142" y="497" width="3" height="1" fill="#c0c0c0" />
<rect x="148" y="497" width="3" height="1" fill="#c0c0c0" />
<rect x="154" y="497" width="3" height="1" fill="#c0c0c0" />
<rect x="160" y="497" width="3" height="1" fill="#c0c0c0" />
<rect x="166" y="497" width="3" height="1" fill="#c0c0c0" />
<rect x="172" y="497" width="3" height="1" fill="#c0c0c0" />
<rect x="178" y="497" width="3" height="1" fill="#c0c0c0" />
<rect x="184" y="497" width="3" height="1" fill="#c0c0c0" />
<rect x="190" y="497" width="3" height="1" fill="#c0c0c0" />
<rect x="196" y="497" width="3" height="1" fill="#c0c0c0" />
<rect x="202" y="497" width="3" height="1" fill="#c0c0c0" />
<rect x="208" y="497" width="3" height="1" fill="#c0c0c0" />
<rect x="214" y="497" width="3" height="1" fill="#c0c0c0" />
<rect x="220" y="497" width="3" height="1" fill="#c0c0c0" />
<rect x="226" y="497" width="3" height="1" fill="#c0c0c0" />
<rect x="232" y="497" width="3" height="1" fill="#c0c0c0" />
<rect x="238" y="497" width="3" height="1" fill="#c0c0c0" />
<rect x="244" y="497" width="3" height="1" fill="#c0c0c0" />
<rect x="250" y="497" width="3" height="1" fill="#c0c0c0" />
<rect x="256" y="497" width="3" height="1" fill="#c0c0c0" />
<rect x="262" y="497" width="3" height="1" fill="#c0c0c0" />
<rect x="268" y="497" width="3" height="1" fill="#c0c0c0" />
<rect x="274" y="497" width="3" height="1" fill="#c0c0c0" />
<rect x="280" y="497" width="3" height="1" fill="#c0c0c0" />
<rect x="286" y="497" width="3" height="1" fill="#c0c0c0" />
<rect x="292" y="497" width="3" height="1" fill="#c0c0c0" />
<rect x="298" y="497" width="3" height="1" fill="#c0c0c0" />
<rect x="304" y="497" width="3" height="1" fill="#c0c0c0" />
<rect x="310" y="497" width="3" height="1" fill="#c0c0c0" />
<rect x="316" y="497" width="3" height="1" fill="#c0c0c0" />
<rect x="322" y="497" width="3" height="1" fill="#c0c0c0" />
<rect x="328" y="497" width="3" height="1" fill="#c0c0c0" />
<rect x="334" y="497" width="3" height="1" fill="#c0c0c0" />
<rect x="340" y="497" width="3" height="1" fill="#c0c0c0" />
<rect x="346" y="497" width="3" height="1" fill="#c0c0c0" />
<rect x="352" y="497" width="3" height="1" fill="#c0c0c0" />
<rect x="358" y="497" width="3" height="1" fill="#c0c0c0" />
<rect x="364" y="497" width="3" height="1" fill="#c0c0c0" />
<rect x="370" y="497" width="3" height="1" fill="#c0c0c0" />
<rect x="376" y="497" width="3" height="1" fill="#c0c0c0" />
<rect x="382" y="497" width="3" height="1" fill="#c0c0c0" />
<rect x="388" y="497" width="3" height="1" fill="#c0c0c0" />
<rect x="394" y="497" width="3" height="1" fill="#c0c0c0" />
<rect x="400" y="497" width="3" height="1" fill="#c0c0c0" />
<rect x="406" y="497" width="3" height="1" fill="#c0c0c0" />
<rect x="412" y="497" width="3" height="1" fill="#c0c0c0" />
<rect x="418" y="497" width="3" height="1" fill="#c0c0c0" />
<rect x="424" y="497" width="3" height="1" fill="#c0c0c0" />
<rect x="430" y="497" width="3" height="1" fill="#c0c0c0" />
<rect x="436" y="497" width="3" height="1" fill="#c0c0c0" />
<rect x="442" y="497" width="3" height="1" fill="#c0c0c0" />
<rect x="448" y="497" width="3" height="1" fill="#c0c0c0" />
<rect x="454" y="497" width="3" height="1" fill="#c0c0c0" />
<rect x="460" y="497" width="3" height="1" fill="#c0c0c0" />
<rect x="466" y="497" width="3" height="1" fill="#c0c0c0" />
<rect x="472" y="497" width="3" height="1" fill="#c0c0c0" />
<rect x="478" y="497" width="3" height="1" fill="#c0c0c0" />
<rect x="484" y="497" width="3" height="1" fill="#c0c0c0" />
<rect x="490" y="497" width="3" height="1" fill="#c0c0c0" />
<rect x="496" y="497" width="3" height="1" fill="#c0c0c0" />
<rect x="502" y="497" width="3" height="1" fill="#c0c0c0" />
<rect x="508" y="497" width="3" height="1" fill="#c0c0c0" />
<rect x="514" y="497" width="3" height="1" fill="#c0c0c0" />
<rect x="520" y="497" width="3" height="1" fill="#c0c0c0" />
<rect x="526" y="497" width="3" height="1" fill="#c0c0c0" />
<rect x="532" y="497" width="3" height="1" fill="#c0c0c0" />
<rect x="538" y="497" width="3" height="1" fill="#c0c0c0" />
<rect x="544" y="497" width="3" height="1" fill="#c0c0c0" />
<rect x="550" y="497" width="3" height="1" fill="#c0c0c0" />
<rect x="556" y="497" width="3" height="1" fill="#c0c0c0" />
<rect x="562" y="497" width="3" height="1" fill="#c0c0c0" />
<rect x="568" y="497" width="3" height="1" fill="#c0c0c0" />
<rect x="574" y="497" width="3" height="1" fill="#c0c0c0" />
<rect x="580" y="497" width="3" height="1" fill="#c0c0c0" />
<rect x="586" y="497" width="3" height="1" fill="#c0c0c0" />
<rect x="592" y="497" width="3" height="1" fill="#c0c0c0" />
<rect x="598" y="497" width="3" height="1" fill="#c0c0c0" />
<rect x="604" y="497" width="3" height="1" fill="#c0c0c0" />
<rect x="610" y="497" width="3" height="1" fill="#c0c0c0" />
<rect x="616" y="497" width="3" height="1" fill="#c0c0c0" />
<rect x="622" y="497" width="3" height="1" fill="#c0c0c0" />
<rect x="628" y="497" width="3" height="1" fill="#c0c0c0" />
<rect x="634" y="497" width="3" height="1" fill="#c0c0c0" />
<rect x="640" y="497" width="3" height="1" fill="#c0c0c0" />
<rect x="646" y="497" width="3" height="1" fill="#c0c0c0" />
<rect x="652" y="497" width="3" height="1" fill="#c0c0c0" />
<rect x="658" y="497" width="3" height="1" fill="#c0c0c0" />
<rect x="664" y="497" width="3" height="1" fill="#c0c0c0" />
<rect x="670" y="497" width="3" height="1" fill="#c0c0c0" />
<rect x="676" y="497" width="3" height="1" fill="#c0c0c0" />
<rect x="682" y="497" width="3" height="1" fill="#c0c0c0" />
<rect x="688" y="497" width="3" height="1" fill="#c0c0c0" />
<rect x="694" y="497" width="3" height="1" fill="#c0c0c0" />
<rect x="700" y="497" width="3" height="1" fill="#c0c0c0" />
<rect x="706" y="497" width="3" height="1" fill="#c0c0c0" />
<rect x="712" y="497" width="3" height="1" fill="#c0c0c0" />
<rect x="718" y="497" width="3" height="1" fill="#c0c0c0" />
<rect x="724" y="497" width="3" height="1" fill="#c0c0c0" />
<rect x="730" y="497" width="3" height="1" fill="#c0c0c0" />
<rect x="736" y="497" width="3" height="1" fill="#c0c0c0" />
<rect x="742" y="497" width="3" height="1" fill="#c0c0c0" />
<rect x="748" y="497" width="3" height="1" fill="#c0c0c0" />
<rect x="754" y="497" width="3" height="1" fill="#c0c0c0" />
<rect x="760" y="497" width="3" height="1" fill="#c0c0c0" />
<rect x="766" y="497" width="3" height="1" fill="#c0c0c0" />
<rect x="772" y="497" width="3" height="1" fill="#c0c0c0" />
<rect x="778" y="497" width="3" height="1" fill="#c0c0c0" />
<rect x="784" y="497" width="3" height="1" fill="#c0c0c0" />
<rect x="790" y="497" width="3" height="1" fill="#c0c0c0" />
<rect x="796" y="497" width="3" height="1" fill="#c0c0c0" />
<rect x="802" y="497" width="3" height="1" fill="#c0c0c0" />
<rect x="808" y="497" width="3" height="1" fill="#c0c0c0" />
<rect x="814" y="497" width="3" height="1" fill="#c0c0c0" />
<rect x="820" y="497" width="3" height="1" fill="#c0c0c0" />
<rect x="826" y="497" width="3" height="1" fill="#c0c0c0" />
<rect x="832" y="497" width="3" height="1" fill="#c0c0c0" />
<rect x="838" y="497" width="3" height="1" fill="#c0c0c0" />
<rect x="844" y="497" width="3" height="1" fill="#c0c0c0" />
<rect x="850" y="497" width="3" height="1" fill="#c0c0c0" />
<rect x="856" y="497" width="3" height="1" fill="#c0c0c0" />
<rect x="862" y="497" width="3" height="1" fill="#c0c0c0" />
<rect x="868" y="497" width="3" height="1" fill="#c0c0c0" />
<rect x="874" y="497" width="3" height="1" fill="#c0c0c0" />
<rect x="880" y="497" width="3" height="1" fill="#c0c0c0" />
<rect x="886" y="497" width="3" height="1" fill="#c0c0c0" />
<rect x="892" y="497" width="3" height="1" fill="#c0c0c0" />
<rect x="898" y="497" width="3" height="1" fill="#c0c0c0" />
<rect x="904" y="497" width="3" height="1" fill="#c0c0c0" />
<rect x="910" y="497" width="3" height="1" fill="#c0c0c0" />
<rect x="916" y="497" width="3" height="1" fill="#c0c0c0" />
<rect x="922" y="497" width="3" height="1" fill="#c0c0c0" />
<rect x="928" y="497" width="3" height="1" fill="#c0c0c0" />
<rect x="934" y="497" width="3" height="1" fill="#c0c0c0" />
<rect x="940" y="497" width="3" height="1" fill="#c0c0c0" />
<rect x="946" y="497" width="3" height="1" fill="#c0c0c0" />
<rect x="952" y="497" width="3" height="1" fill="#c0c0c0" />
<rect x="958" y="497" width="3" height="1" fill="#c0c0c0" />
<rect x="964" y="497" width="3" height="1" fill="#c0c0c0" />
<rect x="970" y="497" width="3" height="1" fill="#c0c0c0" />
<rect x="976" y="497" width="3" height="1" fill="#c0c0c0" />
<rect x="982" y="497" width="3" height="1" fill="#c0c0c0" />
<rect x="988" y="497" width="3" height="1" fill="#c0c0c0" />
<rect x="994" y="497" width="3" height="1" fill="#c0c0c0" />
<rect x="1000" y="497" width="3" height="1" fill="#c0c0c0" />
<rect x="1006" y="497" width="3" height="1" fill="#c0c0c0" />
<rect x="1012" y="497" width="3" height="1" fill="#c0c0c0" />
<rect x="1018" y="497" width="3" height="1" fill="#c0c0c0" />
<rect x="1024" y="497" width="3" height="1" fill="#c0c0c0" />
<rect x="1030" y="497" width="3" height="1" fill="#c0c0c0" />
<rect x="1036" y="497" width="3" height="1" fill="#c0c0c0" />
<rect x="1042" y="497" width="3" height="1" fill="#c0c0c0" />
<rect x="1048" y="497" width="3" height="1" fill="#c0c0c0" />
<rect x="1054" y="497" width="3" height="1" fill="#c0c0c0" />
<rect x="1060" y="497" width="3" height="1" fill="#c0c0c0" />
<rect x="1066" y="497" width="3" height="1" fill="#c0c0c0" />
<rect x="1072" y="497" width="3" height="1" fill="#c0c0c0" />
<rect x="1078" y="497" width="3" height="1" fill="#c0c0c0" />
<rect x="1084" y="497" width="3" height="1" fill="#c0c0c0" />
<rect x="1090" y="497" width="3" height="1" fill="#c0c0c0" />
<rect x="1096" y="497" width="3" height="1" fill="#c0c0c0" />
<rect x="1102" y="497" width="3" height="1" fill="#c0c0c0" />
<rect x="1108" y="497" width="3" height="1" fill="#c0c0c0" />
<rect x="1114" y="497" width="3" height="1" fill="#c0c0c0" />
<rect x="1120" y="497" width="3" height="1" fill="#c0c0c0" />
<rect x="1126" y="497" width="3" height="1" fill="#c0c0c0" />
<rect x="1132" y="497" width="3" height="1" fill="#c0c0c0" />
<rect x="1138" y="497" width="3" height="1" fill="#c0c0c0" />
<rect x="1144" y="497" width="3" height="1" fill="#c0c0c0" />
<rect x="1150" y="497" width="3" height="1" fill="#c0c0c0" />
<rect x="1156" y="497" width="3" height="1" fill="#c0c0c0" />
<rect x="1162" y="497" width="3" height="1" fill="#c0c0c0" />
<rect x="4" y="525" width="3" height="1" fill="#c0c0c0" />
<rect x="10" y="525" width="3" height="1" fill="#c0c0c0" />
<rect x="16" y="525" width="3" height="1" fill="#c0c0c0" />
<rect x="22" y="525" width="3" height="1" fill="#c0c0c0" />
<rect x="28" y="525" width="3" height="1" fill="#c0c0c0" />
<rect x="34" y="525" width="3" height="1" fill="#c0c0c0" />
<rect x="40" y="525" width="3" height="1" fill="#c0c0c0" />
<rect x="46" y="525" width="3" height="1" fill="#c0c0c0" />
<rect x="52" y="525" width="3" height="1" fill="#c0c0c0" />
<rect x="58" y="525" width="3" height="1" fill="#c0c0c0" />
<rect x="64" y="525" width="3" height="1" fill="#c0c0c0" />
<rect x="70" y="525" width="3" height="1" fill="#c0c0c0" />
<rect x="76" y="525" width="3" height="1" fill="#c0c0c0" />
<rect x="82" y="525" width="3" height="1" fill="#c0c0c0" />
<rect x="88" y="525" width="3" height="1" fill="#c0c0c0" />
<rect x="94" y="525" width="3" height="1" fill="#c0c0c0" />
<rect x="100" y="525" width="3" height="1" fill="#c0c0c0" />
<rect x="106" y="525" width="3" height="1" fill="#c0c0c0" />
<rect x="112" y="525" width="3" height="1" fill="#c0c0c0" />
<rect x="118" y="525" width="3" height="1" fill="#c0c0c0" />
<rect x="124" y="525" width="3" height="1" fill="#c0c0c0" />
<rect x="130" y="525" width="3" height="1" fill="#c0c0c0" />
<rect x="136" y="525" width="3" height="1" fill="#c0c0c0" />
<rect x="142" y="525" width="3" height="1" fill="#c0c0c0" />
<rect x="148" y="525" width="3" height="1" fill="#c0c0c0" />
<rect x="154" y="525" width="3" height="1" fill="#c0c0c0" />
<rect x="160" y="525" width="3" height="1" fill="#c0c0c0" />
<rect x="166" y="525" width="3" height="1" fill="#c0c0c0" />
<rect x="172" y="525" width="3" height="1" fill="#c0c0c0" />
<rect x="178" y="525" width="3" height="1" fill="#c0c0c0" />
<rect x="184" y="525" width="3" height="1" fill="#c0c0c0" />
<rect x="190" y="525" width="3" height="1" fill="#c0c0c0" />
<rect x="196" y="525" width="3" height="1" fill="#c0c0c0" />
<rect x="202" y="525" width="3" height="1" fill="#c0c0c0" />
<rect x="208" y="525" width="3" height="1" fill="#c0c0c0" />
<rect x="214" y="525" width="3" height="1" fill="#c0c0c0" />
<rect x="220" y="525" width="3" height="1" fill="#c0c0c0" />
<rect x="226" y="525" width="3" height="1" fill="#c0c0c0" />
<rect x="232" y="525" width="3" height="1" fill="#c0c0c0" />
<rect x="238" y="525" width="3" height="1" fill="#c0c0c0" />
<rect x="244" y="525" width="3" height="1" fill="#c0c0c0" />
<rect x="250" y="525" width="3" height="1" fill="#c0c0c0" />
<rect x="256" y="525" width="3" height="1" fill="#c0c0c0" />
<rect x="262" y="525" width="3" height="1" fill="#c0c0c0" />
<rect x="268" y="525" width="3" height="1" fill="#c0c0c0" />
<rect x="274" y="525" width="3" height="1" fill="#c0c0c0" />
<rect x="280" y="525" width="3" height="1" fill="#c0c0c0" />
<rect x="286" y="525" width="3" height="1" fill="#c0c0c0" />
<rect x="292" y="525" width="3" height="1" fill="#c0c0c0" />
<rect x="298" y="525" width="3" height="1" fill="#c0c0c0" />
<rect x="304" y="525" width="3" height="1" fill="#c0c0c0" />
<rect x="310" y="525" width="3" height="1" fill="#c0c0c0" />
<rect x="316" y="525" width="3" height="1" fill="#c0c0c0" />
<rect x="322" y="525" width="3" height="1" fill="#c0c0c0" />
<rect x="328" y="525" width="3" height="1" fill="#c0c0c0" />
<rect x="334" y="525" width="3" height="1" fill="#c0c0c0" />
<rect x="340" y="525" width="3" height="1" fill="#c0c0c0" />
<rect x="346" y="525" width="3" height="1" fill="#c0c0c0" />
<rect x="352" y="525" width="3" height="1" fill="#c0c0c0" />
<rect x="358" y="525" width="3" height="1" fill="#c0c0c0" />
<rect x="364" y="525" width="3" height="1" fill="#c0c0c0" />
<rect x="370" y="525" width="3" height="1" fill="#c0c0c0" />
<rect x="376" y="525" width="3" height="1" fill="#c0c0c0" />
<rect x="382" y="525" width="3" height="1" fill="#c0c0c0" />
<rect x="388" y="525" width="3" height="1" fill="#c0c0c0" />
<rect x="394" y="525" width="3" height="1" fill="#c0c0c0" />
<rect x="400" y="525" width="3" height="1" fill="#c0c0c0" />
<rect x="406" y="525" width="3" height="1" fill="#c0c0c0" />
<rect x="412" y="525" width="3" height="1" fill="#c0c0c0" />
<rect x="418" y="525" width="3" height="1" fill="#c0c0c0" />
<rect x="424" y="525" width="3" height="1" fill="#c0c0c0" />
<rect x="430" y="525" width="3" height="1" fill="#c0c0c0" />
<rect x="436" y="525" width="3" height="1" fill="#c0c0c0" />
<rect x="442" y="525" width="3" height="1" fill="#c0c0c0" />
<rect x="448" y="525" width="3" height="1" fill="#c0c0c0" />
<rect x="454" y="525" width="3" height="1" fill="#c0c0c0" />
<rect x="460" y="525" width="3" height="1" fill="#c0c0c0" />
<rect x="466" y="525" width="3" height="1" fill="#c0c0c0" />
<rect x="472" y="525" width="3" height="1" fill="#c0c0c0" />
<rect x="478" y="525" width="3" height="1" fill="#c0c0c0" />
<rect x="484" y="525" width="3" height="1" fill="#c0c0c0" />
<rect x="490" y="525" width="3" height="1" fill="#c0c0c0" />
<rect x="496" y="525" width="3" height="1" fill="#c0c0c0" />
<rect x="502" y="525" width="3" height="1" fill="#c0c0c0" />
<rect x="508" y="525" width="3" height="1" fill="#c0c0c0" />
<rect x="514" y="525" width="3" height="1" fill="#c0c0c0" />
<rect x="520" y="525" width="3" height="1" fill="#c0c0c0" />
<rect x="526" y="525" width="3" height="1" fill="#c0c0c0" />
<rect x="532" y="525" width="3" height="1" fill="#c0c0c0" />
<rect x="538" y="525" width="3" height="1" fill="#c0c0c0" />
<rect x="544" y="525" width="3" height="1" fill="#c0c0c0" />
<rect x="550" y="525" width="3" height="1" fill="#c0c0c0" />
<rect x="556" y="525" width="3" height="1" fill="#c0c0c0" />
<rect x="562" y="525" width="3" height="1" fill="#c0c0c0" />
<rect x="568" y="525" width="3" height="1" fill="#c0c0c0" />
<rect x="574" y="525" width="3" height="1" fill="#c0c0c0" />
<rect x="580" y="525" width="3" height="1" fill="#c0c0c0" />
<rect x="586" y="525" width="3" height="1" fill="#c0c0c0" />
<rect x="592" y="525" width="3" height="1" fill="#c0c0c0" />
<rect x="598" y="525" width="3" height="1" fill="#c0c0c0" />
<rect x="604" y="525" width="3" height="1" fill="#c0c0c0" />
<rect x="610" y="525" width="3" height="1" fill="#c0c0c0" />
<rect x="616" y="525" width="3" height="1" fill="#c0c0c0" />
<rect x="622" y="525" width="3" height="1" fill="#c0c0c0" />
<rect x="628" y="525" width="3" height="1" fill="#c0c0c0" />
<rect x="634" y="525" width="3" height="1" fill="#c0c0c0" />
<rect x="640" y="525" width="3" height="1" fill="#c0c0c0" />
<rect x="646" y="525" width="3" height="1" fill="#c0c0c0" />
<rect x="652" y="525" width="3" height="1" fill="#c0c0c0" />
<rect x="658" y="525" width="3" height="1" fill="#c0c0c0" />
<rect x="664" y="525" width="3" height="1" fill="#c0c0c0" />
<rect x="670" y="525" width="3" height="1" fill="#c0c0c0" />
<rect x="676" y="525" width="3" height="1" fill="#c0c0c0" />
<rect x="682" y="525" width="3" height="1" fill="#c0c0c0" />
<rect x="688" y="525" width="3" height="1" fill="#c0c0c0" />
<rect x="694" y="525" width="3" height="1" fill="#c0c0c0" />
<rect x="700" y="525" width="3" height="1" fill="#c0c0c0" />
<rect x="706" y="525" width="3" height="1" fill="#c0c0c0" />
<rect x="712" y="525" width="3" height="1" fill="#c0c0c0" />
<rect x="718" y="525" width="3" height="1" fill="#c0c0c0" />
<rect x="724" y="525" width="3" height="1" fill="#c0c0c0" />
<rect x="730" y="525" width="3" height="1" fill="#c0c0c0" />
<rect x="736" y="525" width="3" height="1" fill="#c0c0c0" />
<rect x="742" y="525" width="3" height="1" fill="#c0c0c0" />
<rect x="748" y="525" width="3" height="1" fill="#c0c0c0" />
<rect x="754" y="525" width="3" height="1" fill="#c0c0c0" />
<rect x="760" y="525" width="3" height="1" fill="#c0c0c0" />
<rect x="766" y="525" width="3" height="1" fill="#c0c0c0" />
<rect x="772" y="525" width="3" height="1" fill="#c0c0c0" />
<rect x="778" y="525" width="3" height="1" fill="#c0c0c0" />
<rect x="784" y="525" width="3" height="1" fill="#c0c0c0" />
<rect x="790" y="525" width="3" height="1" fill="#c0c0c0" />
<rect x="796" y="525" width="3" height="1" fill="#c0c0c0" />
<rect x="802" y="525" width="3" height="1" fill="#c0c0c0" />
<rect x="808" y="525" width="3" height="1" fill="#c0c0c0" />
<rect x="814" y="525" width="3" height="1" fill="#c0c0c0" />
<rect x="820" y="525" width="3" height="1" fill="#c0c0c0" />
<rect x="826" y="525" width="3" height="1" fill="#c0c0c0" />
<rect x="832" y="525" width="3" height="1" fill="#c0c0c0" />
<rect x="838" y="525" width="3" height="1" fill="#c0c0c0" />
<rect x="844" y="525" width="3" height="1" fill="#c0c0c0" />
<rect x="850" y="525" width="3" height="1" fill="#c0c0c0" />
<rect x="856" y="525" width="3" height="1" fill="#c0c0c0" />
<rect x="862" y="525" width="3" height="1" fill="#c0c0c0" />
<rect x="868" y="525" width="3" height="1" fill="#c0c0c0" />
<rect x="874" y="525" width="3" height="1" fill="#c0c0c0" />
<rect x="880" y="525" width="3" height="1" fill="#c0c0c0" />
<rect x="886" y="525" width="3" height="1" fill="#c0c0c0" />
<rect x="892" y="525" width="3" height="1" fill="#c0c0c0" />
<rect x="898" y="525" width="3" height="1" fill="#c0c0c0" />
<rect x="904" y="525" width="3" height="1" fill="#c0c0c0" />
<rect x="910" y="525" width="3" height="1" fill="#c0c0c0" />
<rect x="916" y="525" width="3" height="1" fill="#c0c0c0" />
<rect x="922" y="525" width="3" height="1" fill="#c0c0c0" />
<rect x="928" y="525" width="3" height="1" fill="#c0c0c0" />
<rect x="934" y="525" width="3" height="1" fill="#c0c0c0" />
<rect x="940" y="525" width="3" height="1" fill="#c0c0c0" />
<rect x="946" y="525" width="3" height="1" fill="#c0c0c0" />
<rect x="952" y="525" width="3" height="1" fill="#c0c0c0" />
<rect x="958" y="525" width="3" height="1" fill="#c0c0c0" />
<rect x="964" y="525" width="3" height="1" fill="#c0c0c0" />
<rect x="970" y="525" width="3" height="1" fill="#c0c0c0" />
<rect x="976" y="525" width="3" height="1" fill="#c0c0c0" />
<rect x="982" y="525" width="3" height="1" fill="#c0c0c0" />
<rect x="988" y="525" width="3" height="1" fill="#c0c0c0" />
<rect x="994" y="525" width="3" height="1" fill="#c0c0c0" />
<rect x="1000" y="525" width="3" height="1" fill="#c0c0c0" />
<rect x="1006" y="525" width="3" height="1" fill="#c0c0c0" />
<rect x="1012" y="525" width="3" height="1" fill="#c0c0c0" />
<rect x="1018" y="525" width="3" height="1" fill="#c0c0c0" />
<rect x="1024" y="525" width="3" height="1" fill="#c0c0c0" />
<rect x="1030" y="525" width="3" height="1" fill="#c0c0c0" />
<rect x="1036" y="525" width="3" height="1" fill="#c0c0c0" />
<rect x="1042" y="525" width="3" height="1" fill="#c0c0c0" />
<rect x="1048" y="525" width="3" height="1" fill="#c0c0c0" />
<rect x="1054" y="525" width="3" height="1" fill="#c0c0c0" />
<rect x="1060" y="525" width="3" height="1" fill="#c0c0c0" />
<rect x="1066" y="525" width="3" height="1" fill="#c0c0c0" />
<rect x="1072" y="525" width="3" height="1" fill="#c0c0c0" />
<rect x="1078" y="525" width="3" height="1" fill="#c0c0c0" />
<rect x="1084" y="525" width="3" height="1" fill="#c0c0c0" />
<rect x="1090" y="525" width="3" height="1" fill="#c0c0c0" />
<rect x="1096" y="525" width="3" height="1" fill="#c0c0c0" />
<rect x="1102" y="525" width="3" height="1" fill="#c0c0c0" />
<rect x="1108" y="525" width="3" height="1" fill="#c0c0c0" />
<rect x="1114" y="525" width="3" height="1" fill="#c0c0c0" />
<rect x="1120" y="525" width="3" height="1" fill="#c0c0c0" />
<rect x="1126" y="525" width="3" height="1" fill="#c0c0c0" />
<rect x="1132" y="525" width="3" height="1" fill="#c0c0c0" />
<rect x="1138" y="525" width="3" height="1" fill="#c0c0c0" />
<rect x="1144" y="525" width="3" height="1" fill="#c0c0c0" />
<rect x="1150" y="525" width="3" height="1" fill="#c0c0c0" />
<rect x="1156" y="525" width="3" height="1" fill="#c0c0c0" />
<rect x="1162" y="525" width="3" height="1" fill="#c0c0c0" />
</g>
<path d="M275 495h1M273 496h2M276 496h1M311 496h14M241 497h4M272 497h1M277 497h2M303 497h8M325 497h4M171 498h1M226 498h5M237 498h4M245 498h2M271 498h1M279 498h1M297 498h6M329 498h3M170 499h1M172 499h2M223 499h3M231 499h6M247 499h3M269 499h2M280 499h1M293 499h4M332 499h2M169 500h1M174 500h1M221 500h2M250 500h5M268 500h1M281 500h2M287 500h6M334 500h1M394 500h3M431 500h13M167 501h2M175 501h2M209 501h12M255 501h13M283 501h4M335 501h2M391 501h3M397 501h2M423 501h8M444 501h2M166 502h1M177 502h2M205 502h4M337 502h2M389 502h2M399 502h3M419 502h4M446 502h1M705 502h4M165 503h1M179 503h4M202 503h3M339 503h1M387 503h2M402 503h2M417 503h2M447 503h2M701 503h4M709 503h4M891 503h1M164 504h1M183 504h6M200 504h2M340 504h1M385 504h2M404 504h2M415 504h2M449 504h2M699 504h2M713 504h4M889 504h2M892 504h1M163 505h1M189 505h2M198 505h2M341 505h1M383 505h2M406 505h2M414 505h1M451 505h2M697 505h2M717 505h2M755 505h4M888 505h1M893 505h1M162 506h1M191 506h3M196 506h2M341 506h1M382 506h1M408 506h2M412 506h2M453 506h2M695 506h2M719 506h3M753 506h2M759 506h5M855 506h22M887 506h1M894 506h1M161 507h1M194 507h2M342 507h1M369 507h6M380 507h2M410 507h2M455 507h3M694 507h1M722 507h3M751 507h2M764 507h1M799 507h6M850 507h5M877 507h2M885 507h2M895 507h1M159 508h2M343 508h1M365 508h4M375 508h5M458 508h5M692 508h2M725 508h4M750 508h1M765 508h2M794 508h5M805 508h4M815 508h8M847 508h3M879 508h3M884 508h1M895 508h1M127 509h8M158 509h1M344 509h1M362 509h3M463 509h14M489 509h4M690 509h2M729 509h6M748 509h2M767 509h1M778 509h3M791 509h3M809 509h6M823 509h6M845 509h2M882 509h2M896 509h1M906 509h2M123 510h4M135 510h8M157 510h1M345 510h1M360 510h2M477 510h4M485 510h4M493 510h2M687 510h3M735 510h13M768 510h1M775 510h3M781 510h4M789 510h2M829 510h4M839 510h6M897 510h1M903 510h3M908 510h2M122 511h1M143 511h8M156 511h1M345 511h1M358 511h2M481 511h4M495 511h3M546 511h3M675 511h4M685 511h2M769 511h2M773 511h2M785 511h4M833 511h6M898 511h1M901 511h2M910 511h1M121 512h1M151 512h5M346 512h1M356 512h2M498 512h3M531 512h2M544 512h2M549 512h4M673 512h2M679 512h6M771 512h2M899 512h2M911 512h2M120 513h1M347 513h9M501 513h4M530 513h1M533 513h2M542 513h2M553 513h3M671 513h2M913 513h2M119 514h1M505 514h3M529 514h1M535 514h3M540 514h2M556 514h2M670 514h1M915 514h1M106 515h3M118 515h1M508 515h1M527 515h2M538 515h2M558 515h1M659 515h4M668 515h2M104 516h2M109 516h2M117 516h1M509 516h2M526 516h1M559 516h2M575 516h5M657 516h2M663 516h5M102 517h2M111 517h3M116 517h1M511 517h1M525 517h1M561 517h2M567 517h8M580 517h2M656 517h1M87 518h8M100 518h2M114 518h2M512 518h1M524 518h1M563 518h4M582 518h2M655 518h1M82 519h5M95 519h5M513 519h2M519 519h5M584 519h2M610 519h5M653 519h2M55 520h8M80 520h2M515 520h4M586 520h3M608 520h2M615 520h8M652 520h1M47 521h8M63 521h6M78 521h2M589 521h2M606 521h2M623 521h8M639 521h13M39 522h8M69 522h4M76 522h2M591 522h3M604 522h2M631 522h8M27 523h12M73 523h3M594 523h10M25 524h2M23 525h2M3 526h4M22 526h1M7 527h8M20 527h2M15 528h5" transform="translate(0,0.5)" fill="none" stroke="#1e90ff" stroke-width="1" shape-rendering="crispEdges"/>
<g shape-rendering="crispEdges">
<rect x="1166" y="36" width="2" height="1" fill="#000" />
<rect x="1166" y="69" width="2" height="1" fill="#000" />
<rect x="1166" y="102" width="2" height="1" fill="#000" />
<rect x="1166" y="135" width="2" height="1" fill="#000" />
<rect x="1166" y="168" width="2" height="1" fill="#000" />
<rect x="1166" y="201" width="2" height="1" fill="#000" />
<rect x="1166" y="234" width="2" height="1" fill="#000" />
<rect x="1166" y="267" width="2" height="1" fill="#000" />
<rect x="1166" y="300" width="2" height="1" fill="#000" />
<rect x="1166" y="333" width="2" height="1" fill="#000" />
<rect x="1166" y="366" width="2" height="1" fill="#000" />
<rect x="1166" y="399" width="2" height="1" fill="#000" />
<rect x="1166" y="406" width="1" height="1" fill="#000" />
<rect x="1166" y="440" width="1" height="1" fill="#000" />
<rect x="1166" y="472" width="1" height="1" fill="#000" />
<rect x="1166" y="477" width="1" height="1" fill="#000" />
<rect x="1166" y="546" width="1" height="1" fill="#000" />
<rect x="3" y="548" width="1" height="3" fill="#000" />
<rect x="67" y="548" width="1" height="3" fill="#000" />
<rect x="131" y="548" width="1" height="3" fill="#000" />
<rect x="195" y="548" width="1" height="3" fill="#000" />
<rect x="259" y="548" width="1" height="3" fill="#000" />
<rect x="323" y="548" width="1" height="3" fill="#000" />
<rect x="387" y="548" width="1" height="3" fill="#000" />
<rect x="451" y="548" width="1" height="3" fill="#000" />
<rect x="515" y="548" width="1" height="3" fill="#000" />
<rect x="579" y="548" width="1" height="3" fill="#000" />
<rect x="643" y="548" width="1" height="3" fill="#000" />
<rect x="707" y="548" width="1" height="3" fill="#000" />
<rect x="771" y="548" width="1" height="3" fill="#000" />
<rect x="835" y="548" width="1" height="3" fill="#000" />
<rect x="899" y="548" width="1" height="3" fill="#000" />
</g>
<g shape-rendering="crispEdges">
<rect x="0" y="568" width="1206" height="1" fill="#e0e0e0" />
<rect x="0" y="569" width="1206" height="1" fill="#ffffff" />
<rect x="0" y="570" width="1206" height="1" fill="#000" />
<rect x="0" y="571" width="1206" height="19" fill="#f0f0f0" />
<rect x="0" y="571" width="1206" height="1" fill="#f8f8f8" />
<rect x="0" y="590" width="1206" height="1" fill="#ffffff" />
<rect x="0" y="591" width="1206" height="3" fill="#f0f0f0" />
<rect x="0" y="594" width="1206" height="1" fill="#a0a0a0" />
<rect x="428" y="570" width="108" height="19" fill="#000" />
<rect x="429" y="569" width="106" height="19" fill="#fff" />
<rect x="429" y="568" width="106" height="1" fill="#e0e0e0" />
<rect x="104" y="573" width="1" height="14" fill="#5f5f5f" />
<rect x="212" y="573" width="1" height="14" fill="#5f5f5f" />
<rect x="320" y="573" width="1" height="14" fill="#5f5f5f" />
<rect x="648" y="573" width="1" height="14" fill="#5f5f5f" />
<rect x="748" y="573" width="1" height="14" fill="#5f5f5f" />
<rect x="840" y="573" width="1" height="14" fill="#5f5f5f" />
<rect x="928" y="573" width="1" height="14" fill="#5f5f5f" />
<rect x="1012" y="573" width="1" height="14" fill="#5f5f5f" />
</g>
<polygon points="1185,575.5 1185,582.5 1181,579" fill="#8c8c8c"/>
<polygon points="1200,575.5 1200,582.5 1204,579" fill="#8c8c8c"/>
<polygon points="6,30 13,30 9.5,34" fill="#000" shape-rendering="crispEdges"/>
<text x="-3" y="11" font-size="10.2" fill="#404040" text-anchor="start" >5</text>
<text x="14.5" y="11" font-size="10.2" fill="#404040" text-anchor="start" textLength="17.5" lengthAdjust="spacingAndGlyphs" >M30</text>
<text x="46" y="11" font-size="10.2" fill="#404040" text-anchor="start" textLength="11" lengthAdjust="spacingAndGlyphs" >H1</text>
<text x="73" y="11" font-size="10.2" fill="#404040" text-anchor="start" textLength="12" lengthAdjust="spacingAndGlyphs" >H4</text>
<text x="101.3" y="11" font-size="10.2" fill="#303030" text-anchor="start" textLength="12.4" lengthAdjust="spacingAndGlyphs" >D1</text>
<text x="129" y="11" font-size="10.2" fill="#404040" text-anchor="start" textLength="14" lengthAdjust="spacingAndGlyphs" >W1</text>
<text x="155" y="11" font-size="10.2" fill="#404040" text-anchor="start" textLength="15" lengthAdjust="spacingAndGlyphs" >MN</text>
<text x="18" y="35" font-size="10.2" fill="#000" text-anchor="start" textLength="68.3" lengthAdjust="spacingAndGlyphs" >USDCAD-,Daily</text>
<text x="93.7" y="35" font-size="10.2" fill="#000" text-anchor="start" textLength="32.1" lengthAdjust="spacingAndGlyphs" >1.27550</text>
<text x="129.65" y="35" font-size="10.2" fill="#000" text-anchor="start" textLength="32.1" lengthAdjust="spacingAndGlyphs" >1.28087</text>
<text x="165.60000000000002" y="35" font-size="10.2" fill="#000" text-anchor="start" textLength="32.1" lengthAdjust="spacingAndGlyphs" >1.26590</text>
<text x="201.55" y="35" font-size="10.2" fill="#000" text-anchor="start" textLength="32.1" lengthAdjust="spacingAndGlyphs" >1.26687</text>
<text x="7" y="417" font-size="10.2" fill="#000" text-anchor="start" textLength="148" lengthAdjust="spacingAndGlyphs" >MACD(12,26,9) 0.001269 0.001952</text>
<text x="7" y="488" font-size="10.2" fill="#000" text-anchor="start" textLength="68" lengthAdjust="spacingAndGlyphs" >RSI(14) 45.2673</text>
<text x="1171.5" y="40" font-size="10.2" fill="#000" text-anchor="start" textLength="32.3" lengthAdjust="spacingAndGlyphs" >1.29750</text>
<text x="1171.5" y="73" font-size="10.2" fill="#000" text-anchor="start" textLength="32.3" lengthAdjust="spacingAndGlyphs" >1.29105</text>
<text x="1171.5" y="106" font-size="10.2" fill="#000" text-anchor="start" textLength="32.3" lengthAdjust="spacingAndGlyphs" >1.28475</text>
<text x="1171.5" y="139" font-size="10.2" fill="#000" text-anchor="start" textLength="32.3" lengthAdjust="spacingAndGlyphs" >1.27830</text>
<text x="1171.5" y="172" font-size="10.2" fill="#000" text-anchor="start" textLength="32.3" lengthAdjust="spacingAndGlyphs" >1.27200</text>
<text x="1171.5" y="205" font-size="10.2" fill="#000" text-anchor="start" textLength="32.3" lengthAdjust="spacingAndGlyphs" >1.26570</text>
<text x="1171.5" y="238" font-size="10.2" fill="#000" text-anchor="start" textLength="32.3" lengthAdjust="spacingAndGlyphs" >1.25925</text>
<text x="1171.5" y="271" font-size="10.2" fill="#000" text-anchor="start" textLength="32.3" lengthAdjust="spacingAndGlyphs" >1.25295</text>
<text x="1171.5" y="304" font-size="10.2" fill="#000" text-anchor="start" textLength="32.3" lengthAdjust="spacingAndGlyphs" >1.24650</text>
<text x="1171.5" y="337" font-size="10.2" fill="#000" text-anchor="start" textLength="32.3" lengthAdjust="spacingAndGlyphs" >1.24020</text>
<text x="1171.5" y="370" font-size="10.2" fill="#000" text-anchor="start" textLength="32.3" lengthAdjust="spacingAndGlyphs" >1.23375</text>
<text x="1171.5" y="403" font-size="10.2" fill="#000" text-anchor="start" textLength="32.3" lengthAdjust="spacingAndGlyphs" >1.22745</text>
<text x="1171.5" y="82" font-size="10.2" fill="#fff" text-anchor="start" textLength="32.3" lengthAdjust="spacingAndGlyphs" >1.28912</text>
<text x="1171.5" y="155" font-size="10.2" fill="#fff" text-anchor="start" textLength="32.3" lengthAdjust="spacingAndGlyphs" >1.27515</text>
<text x="1171.5" y="218" font-size="10.2" fill="#fff" text-anchor="start" textLength="32.3" lengthAdjust="spacingAndGlyphs" >1.26297</text>
<text x="1171.5" y="295" font-size="10.2" fill="#fff" text-anchor="start" textLength="32.3" lengthAdjust="spacingAndGlyphs" >1.24816</text>
<text x="1171.5" y="379" font-size="10.2" fill="#fff" text-anchor="start" textLength="32.3" lengthAdjust="spacingAndGlyphs" >1.23200</text>
<text x="1171.5" y="199" font-size="10.2" fill="#fff" text-anchor="start" textLength="32.3" lengthAdjust="spacingAndGlyphs" >1.26687</text>
<text x="1169.0" y="415" font-size="10.2" fill="#000" text-anchor="start" textLength="37.3" lengthAdjust="spacingAndGlyphs" >0.009345</text>
<text x="1169.0" y="444" font-size="10.2" fill="#000" text-anchor="start" textLength="17.5" lengthAdjust="spacingAndGlyphs" >0.00</text>
<text x="1169.0" y="470" font-size="10.2" fill="#000" text-anchor="start" textLength="40.5" lengthAdjust="spacingAndGlyphs" >-0.008903</text>
<text x="1169.5" y="486" font-size="10.2" fill="#000" text-anchor="start" textLength="14.5" lengthAdjust="spacingAndGlyphs" >100</text>
<text x="1169" y="501" font-size="10.2" fill="#000" text-anchor="start" textLength="9.3" lengthAdjust="spacingAndGlyphs" >70</text>
<text x="1169" y="529" font-size="10.2" fill="#000" text-anchor="start" textLength="9.3" lengthAdjust="spacingAndGlyphs" >30</text>
<text x="1169.5" y="544" font-size="10.2" fill="#000" text-anchor="start" textLength="4.6" lengthAdjust="spacingAndGlyphs" >0</text>
<text x="2.6" y="560" font-size="10.2" fill="#000" text-anchor="start" textLength="49.7" lengthAdjust="spacingAndGlyphs" >18 Oct 2021</text>
<text x="66.6" y="560" font-size="10.2" fill="#000" text-anchor="start" textLength="50" lengthAdjust="spacingAndGlyphs" >27 Oct 2021</text>
<text x="130.6" y="560" font-size="10.2" fill="#000" text-anchor="start" textLength="48" lengthAdjust="spacingAndGlyphs" >5 Nov 2021</text>
<text x="194.6" y="560" font-size="10.2" fill="#000" text-anchor="start" textLength="52" lengthAdjust="spacingAndGlyphs" >15 Nov 2021</text>
<text x="258.6" y="560" font-size="10.2" fill="#000" text-anchor="start" textLength="52.4" lengthAdjust="spacingAndGlyphs" >24 Nov 2021</text>
<text x="322.6" y="560" font-size="10.2" fill="#000" text-anchor="start" textLength="45.5" lengthAdjust="spacingAndGlyphs" >3 Dec 2021</text>
<text x="386.6" y="560" font-size="10.2" fill="#000" text-anchor="start" textLength="51" lengthAdjust="spacingAndGlyphs" >13 Dec 2021</text>
<text x="450.6" y="560" font-size="10.2" fill="#000" text-anchor="start" textLength="50.8" lengthAdjust="spacingAndGlyphs" >22 Dec 2021</text>
<text x="514.6" y="560" font-size="10.2" fill="#000" text-anchor="start" textLength="50.4" lengthAdjust="spacingAndGlyphs" >31 Dec 2021</text>
<text x="578.6" y="560" font-size="10.2" fill="#000" text-anchor="start" textLength="49" lengthAdjust="spacingAndGlyphs" >10 Jan 2022</text>
<text x="642.6" y="560" font-size="10.2" fill="#000" text-anchor="start" textLength="48.7" lengthAdjust="spacingAndGlyphs" >19 Jan 2022</text>
<text x="706.6" y="560" font-size="10.2" fill="#000" text-anchor="start" textLength="49" lengthAdjust="spacingAndGlyphs" >28 Jan 2022</text>
<text x="770.6" y="560" font-size="10.2" fill="#000" text-anchor="start" textLength="46.3" lengthAdjust="spacingAndGlyphs" >7 Feb 2022</text>
<text x="834.6" y="560" font-size="10.2" fill="#000" text-anchor="start" textLength="50.8" lengthAdjust="spacingAndGlyphs" >16 Feb 2022</text>
<text x="898.6" y="560" font-size="10.2" fill="#000" text-anchor="start" textLength="51.2" lengthAdjust="spacingAndGlyphs" >25 Feb 2022</text>
<text x="15.6" y="585" font-size="13" fill="#6f6f6f" text-anchor="start" textLength="77.3" lengthAdjust="spacingAndGlyphs" >USDX,Weekly</text>
<text x="115" y="585" font-size="13" fill="#6f6f6f" text-anchor="start" textLength="85" lengthAdjust="spacingAndGlyphs" >EURUSD-,Daily</text>
<text x="222.2" y="585" font-size="13" fill="#6f6f6f" text-anchor="start" textLength="86.8" lengthAdjust="spacingAndGlyphs" >AUDUSD-,Daily</text>
<text x="331.7" y="585" font-size="13" fill="#6f6f6f" text-anchor="start" textLength="84.3" lengthAdjust="spacingAndGlyphs" >USDCHF-,Daily</text>
<text x="439.5" y="585" font-size="13" fill="#000" text-anchor="start" textLength="85.2" lengthAdjust="spacingAndGlyphs" >USDCAD-,Daily</text>
<text x="548.3" y="585" font-size="13" fill="#6f6f6f" text-anchor="start" textLength="87.9" lengthAdjust="spacingAndGlyphs" >USDCNH-,Daily</text>
<text x="658.7" y="585" font-size="13" fill="#6f6f6f" text-anchor="start" textLength="77.0" lengthAdjust="spacingAndGlyphs" >XAUUSD-,M5</text>
<text x="759.2" y="585" font-size="13" fill="#6f6f6f" text-anchor="start" textLength="68.8" lengthAdjust="spacingAndGlyphs" >UKOil-,Daily</text>
<text x="852.2" y="585" font-size="13" fill="#6f6f6f" text-anchor="start" textLength="64.0" lengthAdjust="spacingAndGlyphs" >DJ30-,Daily</text>
<text x="939" y="585" font-size="13" fill="#6f6f6f" text-anchor="start" textLength="62" lengthAdjust="spacingAndGlyphs" >UK100-,H1</text>
</svg></body></html>
